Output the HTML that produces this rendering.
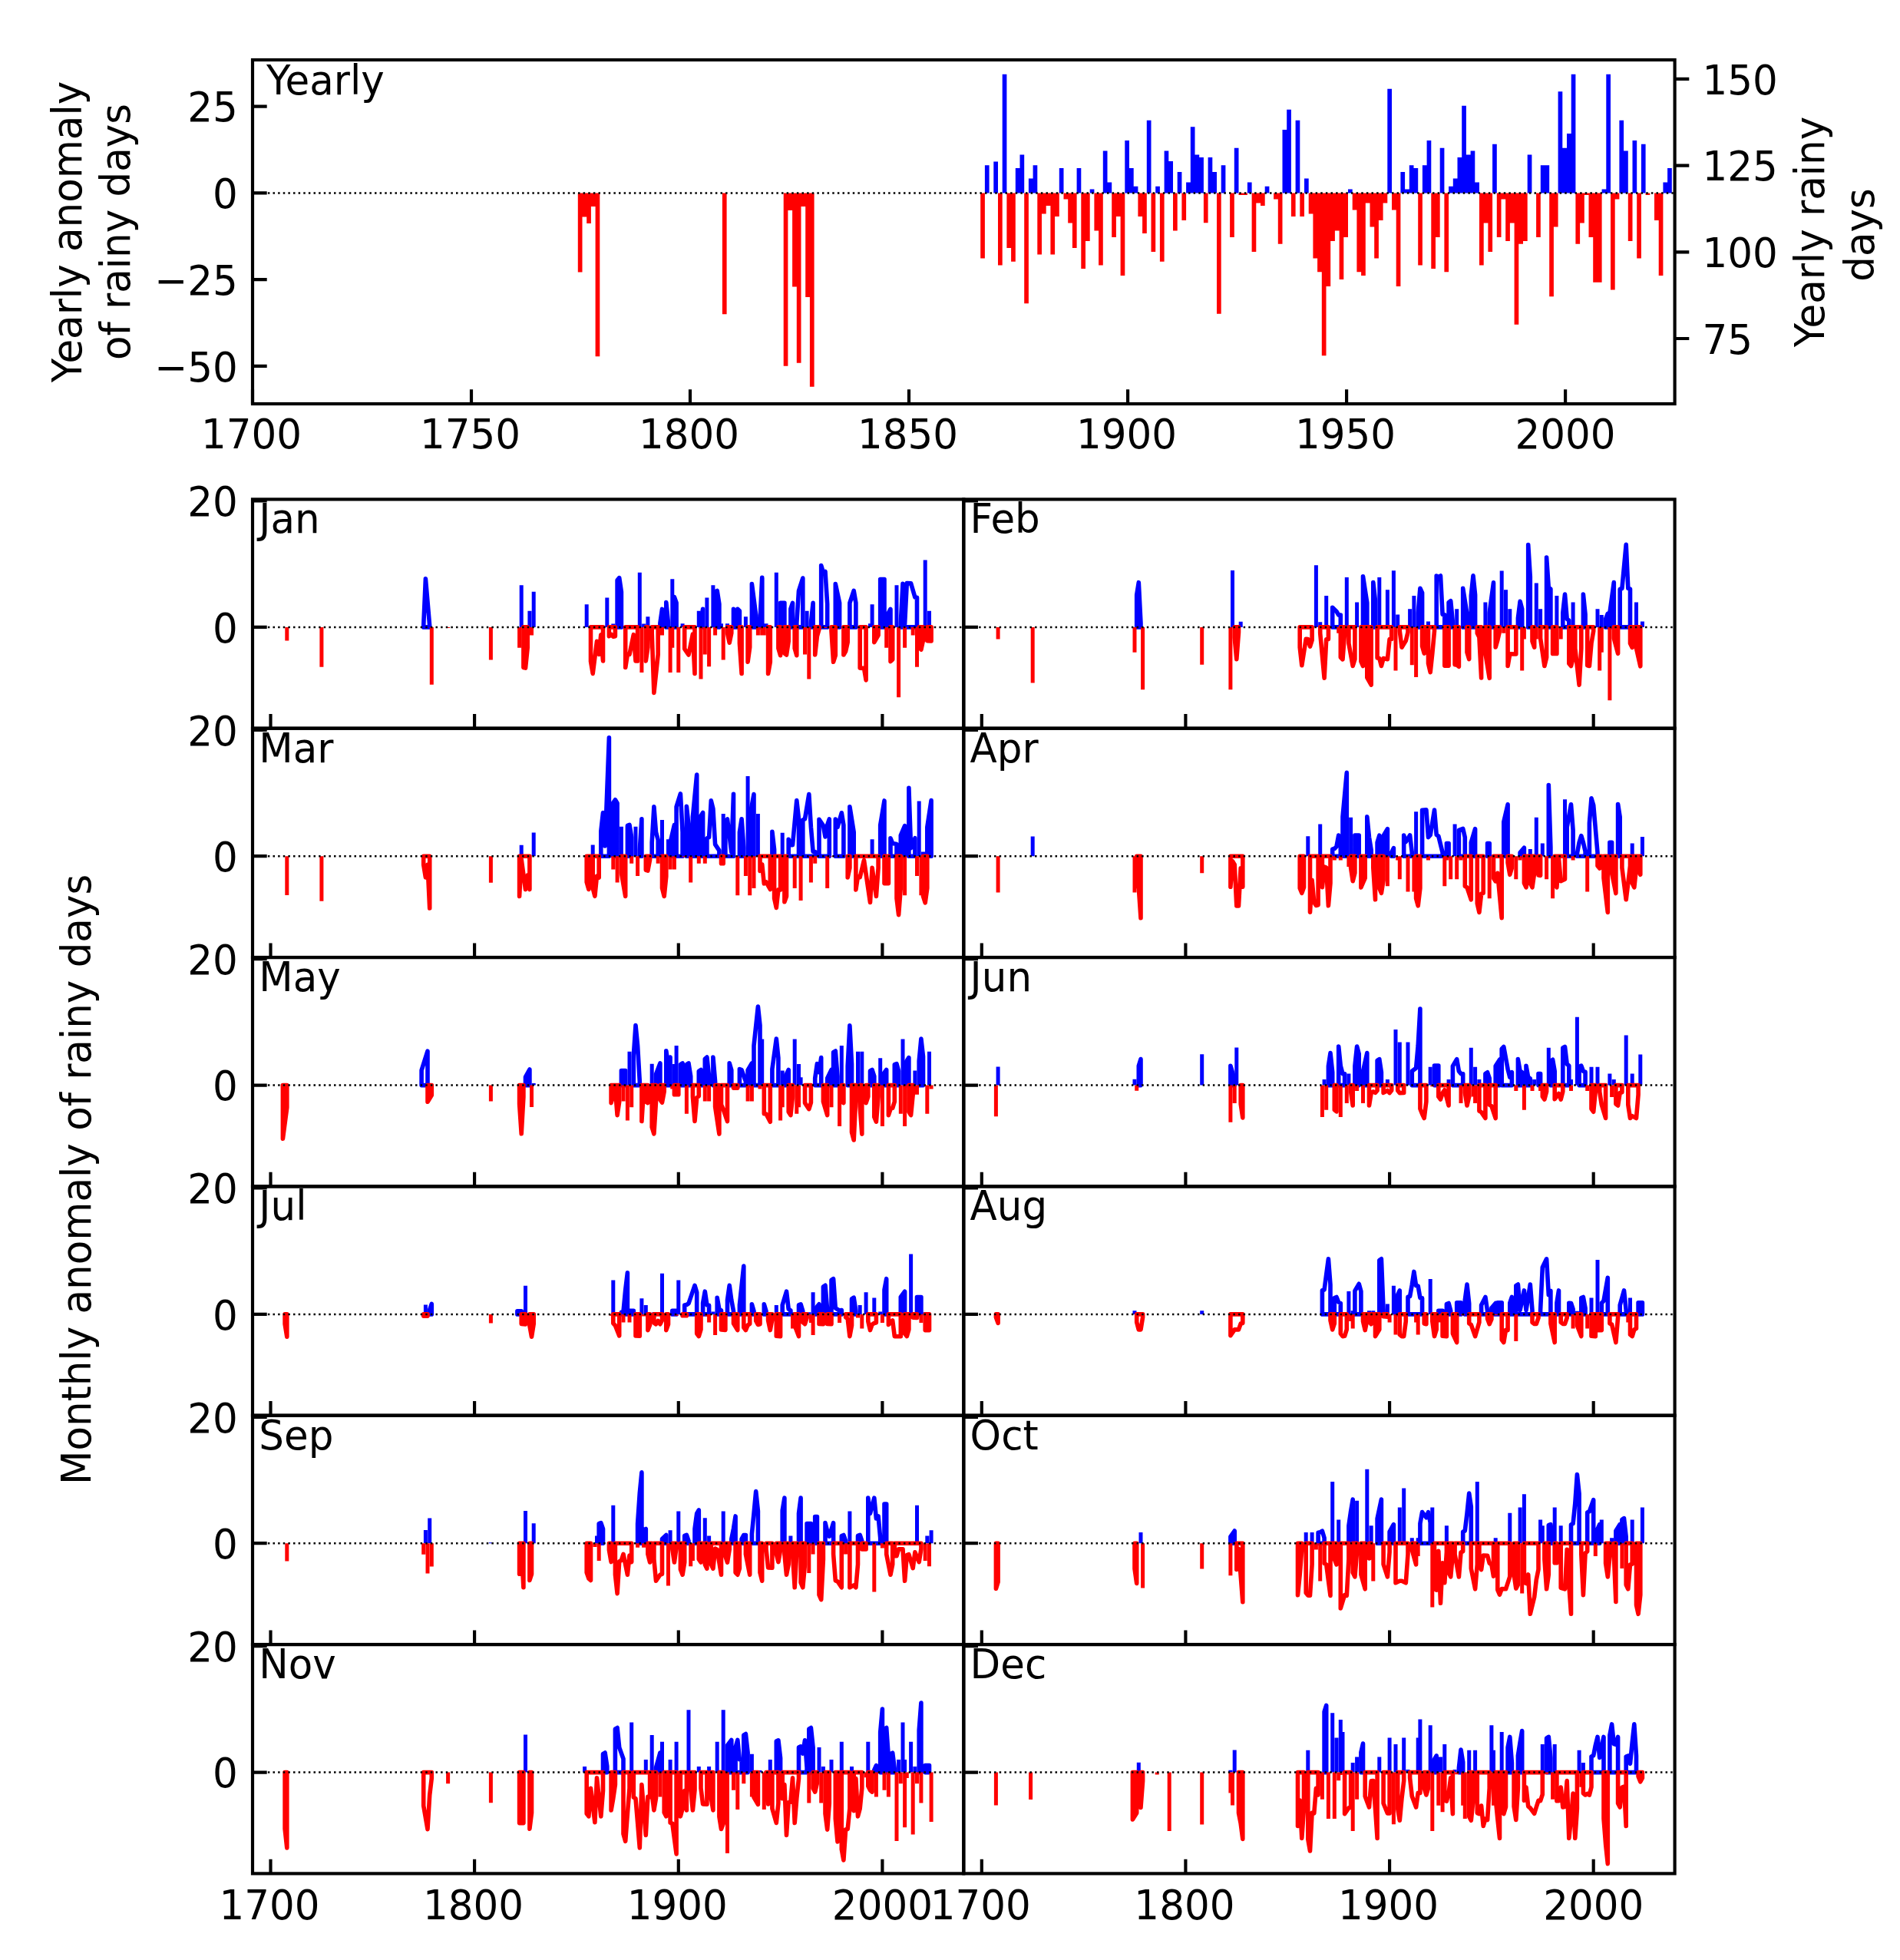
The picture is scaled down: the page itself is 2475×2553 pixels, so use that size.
<!DOCTYPE html><html><head><meta charset="utf-8"><title>Rainy days anomaly</title><style>html,body{margin:0;padding:0;background:#fff}svg{display:block}text{font-family:"DejaVu Sans","Liberation Sans",sans-serif;font-size:54.17px;fill:#000}</style></head><body>
<svg width="2475" height="2553" viewBox="0 0 2475 2553">
<rect width="2475" height="2553" fill="#fff"/>
<path d="M1282.9 251.4h5.70V215.3h-5.70zM1294.3 251.4h5.70V210.4h-5.70zM1305.7 251.4h5.70V96.8h-5.70zM1322.8 251.4h5.70V218.9h-5.70zM1328.5 251.4h5.70V201.4h-5.70zM1339.9 251.4h5.70V232.5h-5.70zM1345.6 251.4h5.70V215.3h-5.70zM1379.8 251.4h5.70V218.9h-5.70zM1402.6 251.4h5.70V218.9h-5.70zM1419.7 251.4h5.70V246.4h-5.70zM1436.8 251.4h5.70V196.4h-5.70zM1442.5 251.4h5.70V237.4h-5.70zM1465.3 251.4h5.70V182.9h-5.70zM1471.0 251.4h5.70V218.9h-5.70zM1476.7 251.4h5.70V242.8h-5.70zM1493.8 251.4h5.70V156.7h-5.70zM1505.2 251.4h5.70V242.8h-5.70zM1516.6 251.4h5.70V196.4h-5.70zM1522.3 251.4h5.70V209.9h-5.70zM1533.7 251.4h5.70V223.9h-5.70zM1545.1 251.4h5.70V237.4h-5.70zM1550.8 251.4h5.70V165.3h-5.70zM1556.5 251.4h5.70V201.4h-5.70zM1562.2 251.4h5.70V205.0h-5.70zM1573.6 251.4h5.70V205.0h-5.70zM1579.3 251.4h5.70V223.9h-5.70zM1590.7 251.4h5.70V215.3h-5.70zM1607.8 251.4h5.70V192.8h-5.70zM1624.9 251.4h5.70V237.4h-5.70zM1647.7 251.4h5.70V242.8h-5.70zM1670.5 251.4h5.70V168.9h-5.70zM1676.2 251.4h5.70V142.8h-5.70zM1687.6 251.4h5.70V156.7h-5.70zM1699.0 251.4h5.70V232.5h-5.70zM1756.0 251.4h5.70V246.4h-5.70zM1807.3 251.4h5.70V115.7h-5.70zM1824.4 251.4h5.70V223.9h-5.70zM1830.1 251.4h5.70V246.4h-5.70zM1835.8 251.4h5.70V215.3h-5.70zM1841.5 251.4h5.70V218.9h-5.70zM1852.9 251.4h5.70V215.3h-5.70zM1858.6 251.4h5.70V182.9h-5.70zM1875.7 251.4h5.70V192.8h-5.70zM1887.1 251.4h5.70V242.8h-5.70zM1892.8 251.4h5.70V232.5h-5.70zM1898.5 251.4h5.70V205.0h-5.70zM1904.2 251.4h5.70V137.8h-5.70zM1909.9 251.4h5.70V201.4h-5.70zM1915.6 251.4h5.70V196.4h-5.70zM1921.3 251.4h5.70V237.4h-5.70zM1944.1 251.4h5.70V187.8h-5.70zM1989.7 251.4h5.70V201.4h-5.70zM2006.8 251.4h5.70V215.3h-5.70zM2012.5 251.4h5.70V215.3h-5.70zM2029.6 251.4h5.70V119.3h-5.70zM2035.3 251.4h5.70V192.8h-5.70zM2041.0 251.4h5.70V173.9h-5.70zM2046.7 251.4h5.70V96.8h-5.70zM2086.6 251.4h5.70V246.4h-5.70zM2092.3 251.4h5.70V96.8h-5.70zM2109.4 251.4h5.70V156.7h-5.70zM2115.1 251.4h5.70V196.4h-5.70zM2126.5 251.4h5.70V182.9h-5.70zM2137.9 251.4h5.70V187.8h-5.70zM2166.4 251.4h5.70V237.4h-5.70zM2172.1 251.4h5.70V218.9h-5.70z" fill="#0000ff"/>
<path d="M752.8 251.4h5.70V354.6h-5.70zM758.5 251.4h5.70V282.5h-5.70zM764.2 251.4h5.70V291.1h-5.70zM769.9 251.4h5.70V269.0h-5.70zM775.6 251.4h5.70V464.2h-5.70zM940.9 251.4h5.70V409.2h-5.70zM1020.7 251.4h5.70V476.8h-5.70zM1026.4 251.4h5.70V273.9h-5.70zM1032.1 251.4h5.70V373.6h-5.70zM1037.8 251.4h5.70V472.7h-5.70zM1043.5 251.4h5.70V269.0h-5.70zM1049.2 251.4h5.70V387.1h-5.70zM1054.9 251.4h5.70V503.8h-5.70zM1277.2 251.4h5.70V336.6h-5.70zM1300.0 251.4h5.70V345.6h-5.70zM1311.4 251.4h5.70V323.1h-5.70zM1317.1 251.4h5.70V340.7h-5.70zM1334.2 251.4h5.70V395.2h-5.70zM1351.3 251.4h5.70V331.6h-5.70zM1357.0 251.4h5.70V278.4h-5.70zM1362.7 251.4h5.70V268.1h-5.70zM1368.4 251.4h5.70V331.6h-5.70zM1374.1 251.4h5.70V282.1h-5.70zM1385.5 251.4h5.70V259.5h-5.70zM1391.2 251.4h5.70V290.6h-5.70zM1396.9 251.4h5.70V323.1h-5.70zM1408.3 251.4h5.70V350.1h-5.70zM1414.0 251.4h5.70V314.1h-5.70zM1425.4 251.4h5.70V300.5h-5.70zM1431.1 251.4h5.70V345.6h-5.70zM1448.2 251.4h5.70V309.1h-5.70zM1453.9 251.4h5.70V282.1h-5.70zM1459.6 251.4h5.70V359.1h-5.70zM1482.4 251.4h5.70V282.1h-5.70zM1488.1 251.4h5.70V304.1h-5.70zM1499.5 251.4h5.70V328.0h-5.70zM1510.9 251.4h5.70V340.7h-5.70zM1528.0 251.4h5.70V300.5h-5.70zM1539.4 251.4h5.70V287.0h-5.70zM1567.9 251.4h5.70V290.2h-5.70zM1585.0 251.4h5.70V408.7h-5.70zM1602.1 251.4h5.70V309.1h-5.70zM1613.5 251.4h5.70V254.1h-5.70zM1619.2 251.4h5.70V254.1h-5.70zM1630.6 251.4h5.70V328.0h-5.70zM1636.3 251.4h5.70V264.5h-5.70zM1642.0 251.4h5.70V268.1h-5.70zM1659.1 251.4h5.70V259.5h-5.70zM1664.8 251.4h5.70V317.7h-5.70zM1681.9 251.4h5.70V282.1h-5.70zM1693.3 251.4h5.70V282.1h-5.70zM1704.7 251.4h5.70V278.4h-5.70zM1710.4 251.4h5.70V336.6h-5.70zM1716.1 251.4h5.70V354.2h-5.70zM1721.8 251.4h5.70V463.3h-5.70zM1727.5 251.4h5.70V373.1h-5.70zM1733.2 251.4h5.70V314.1h-5.70zM1738.9 251.4h5.70V300.5h-5.70zM1744.6 251.4h5.70V364.1h-5.70zM1750.3 251.4h5.70V309.1h-5.70zM1761.7 251.4h5.70V273.5h-5.70zM1767.4 251.4h5.70V354.2h-5.70zM1773.1 251.4h5.70V359.1h-5.70zM1778.8 251.4h5.70V264.5h-5.70zM1784.5 251.4h5.70V295.6h-5.70zM1790.2 251.4h5.70V336.6h-5.70zM1795.9 251.4h5.70V287.0h-5.70zM1801.6 251.4h5.70V264.5h-5.70zM1813.0 251.4h5.70V273.5h-5.70zM1818.7 251.4h5.70V373.1h-5.70zM1847.2 251.4h5.70V345.6h-5.70zM1864.3 251.4h5.70V350.1h-5.70zM1870.0 251.4h5.70V309.1h-5.70zM1881.4 251.4h5.70V354.2h-5.70zM1927.0 251.4h5.70V345.6h-5.70zM1932.7 251.4h5.70V290.6h-5.70zM1938.4 251.4h5.70V328.0h-5.70zM1949.8 251.4h5.70V309.1h-5.70zM1955.5 251.4h5.70V259.5h-5.70zM1961.2 251.4h5.70V314.1h-5.70zM1966.9 251.4h5.70V290.6h-5.70zM1972.6 251.4h5.70V422.7h-5.70zM1978.3 251.4h5.70V317.7h-5.70zM1984.0 251.4h5.70V314.1h-5.70zM2001.1 251.4h5.70V309.1h-5.70zM2018.2 251.4h5.70V386.2h-5.70zM2023.9 251.4h5.70V295.6h-5.70zM2052.4 251.4h5.70V317.7h-5.70zM2058.1 251.4h5.70V290.6h-5.70zM2063.8 251.4h5.70V254.1h-5.70zM2069.5 251.4h5.70V309.1h-5.70zM2075.2 251.4h5.70V367.7h-5.70zM2080.9 251.4h5.70V367.7h-5.70zM2098.0 251.4h5.70V377.6h-5.70zM2103.7 251.4h5.70V259.5h-5.70zM2120.8 251.4h5.70V314.1h-5.70zM2132.2 251.4h5.70V336.6h-5.70zM2143.6 251.4h5.70V254.1h-5.70zM2155.0 251.4h5.70V287.0h-5.70zM2160.7 251.4h5.70V359.1h-5.70z" fill="#ff0000"/>
<line x1="329.0" y1="251.4" x2="2181.6" y2="251.4" stroke="#000" stroke-width="2.5" stroke-dasharray="2.5 4.125"/>
<path d="M329.0 526.0v-18.7M614.0 526.0v-18.7M899.0 526.0v-18.7M1184.0 526.0v-18.7M1469.1 526.0v-18.7M1754.1 526.0v-18.7M2039.1 526.0v-18.7M329.0 138.7h18.7M329.0 251.4h18.7M329.0 364.1h18.7M329.0 476.8h18.7M2181.6 102.9h18.7M2181.6 215.6h18.7M2181.6 328.3h18.7M2181.6 441.0h18.7" stroke="#000" stroke-width="4.17" fill="none"/>
<rect x="329.0" y="78.0" width="1852.6" height="448.0" fill="none" stroke="#000" stroke-width="4.17"/>
<text transform="translate(327.5 584.3) scale(0.951 1)" text-anchor="middle">1700</text>
<text transform="translate(612.5 584.3) scale(0.951 1)" text-anchor="middle">1750</text>
<text transform="translate(897.5 584.3) scale(0.951 1)" text-anchor="middle">1800</text>
<text transform="translate(1182.5 584.3) scale(0.951 1)" text-anchor="middle">1850</text>
<text transform="translate(1467.6 584.3) scale(0.951 1)" text-anchor="middle">1900</text>
<text transform="translate(1752.6 584.3) scale(0.951 1)" text-anchor="middle">1950</text>
<text transform="translate(2039.1 584.3) scale(0.951 1)" text-anchor="middle">2000</text>
<text transform="translate(309.8 158.4) scale(0.951 1)" text-anchor="end">25</text>
<text transform="translate(309.8 271.1) scale(0.951 1)" text-anchor="end">0</text>
<text transform="translate(309.8 383.8) scale(0.951 1)" text-anchor="end">−25</text>
<text transform="translate(309.8 496.5) scale(0.951 1)" text-anchor="end">−50</text>
<text transform="translate(2217.5 122.6) scale(0.951 1)" text-anchor="start">150</text>
<text transform="translate(2217.5 235.3) scale(0.951 1)" text-anchor="start">125</text>
<text transform="translate(2217.5 348.0) scale(0.951 1)" text-anchor="start">100</text>
<text transform="translate(2217.5 460.7) scale(0.951 1)" text-anchor="start">75</text>
<text transform="translate(346.9 123.2) scale(0.951 1)" text-anchor="start">Yearly</text>
<text transform="translate(105.5 302.0) rotate(-90) scale(0.951 1)" text-anchor="middle">Yearly anomaly</text>
<text transform="translate(168.5 302.0) rotate(-90) scale(0.951 1)" text-anchor="middle">of rainy days</text>
<text transform="translate(2376.0 302.0) rotate(-90) scale(0.951 1)" text-anchor="middle">Yearly rainy</text>
<text transform="translate(2441.0 306.0) rotate(-90) scale(0.951 1)" text-anchor="middle">days</text>
<path d="M551.7 816.9L551.7 815.5L554.4 753.7L559.7 815.5L559.7 816.9zM804.1 816.9L804.1 755.7L806.7 752.6L809.4 770.8L809.4 816.9zM859.9 816.9L859.9 811.6L862.5 793.4L862.5 816.9zM867.8 816.9L867.8 784.6L870.5 811.6L870.5 816.9zM878.4 816.9L878.4 777.6L881.1 785.3L881.1 816.9zM913.0 816.9L913.0 811.6L915.6 793.2L915.6 816.9zM931.6 816.9L931.6 770.8L934.2 769.5L936.9 786.6L936.9 816.9zM955.5 816.9L955.5 793.4L958.1 812.9L960.8 793.2L963.4 795.8L963.4 816.9zM979.4 816.9L979.4 760.5L984.7 801.1L984.7 816.9zM990.0 816.9L990.0 811.6L992.7 752.4L992.7 816.9zM1016.6 816.9L1016.6 785.3L1021.9 785.3L1021.9 816.9zM1029.9 816.9L1029.9 793.2L1032.5 785.3L1032.5 816.9zM1037.8 816.9L1037.8 811.6L1040.5 769.5L1045.8 753.0L1045.8 816.9zM1056.4 816.9L1056.4 811.6L1059.1 785.3L1059.1 816.9zM1069.7 816.9L1069.7 736.6L1072.4 745.8L1075.0 744.5L1077.7 786.8L1077.7 816.9zM1088.3 816.9L1088.3 760.5L1093.6 785.3L1093.6 816.9zM1106.9 816.9L1106.9 785.3L1112.2 769.5L1114.9 785.3L1114.9 816.9zM1146.7 816.9L1146.7 754.6L1152.0 754.6L1152.0 816.9zM1157.4 816.9L1157.4 798.4L1160.0 793.4L1160.0 816.9zM1173.3 816.9L1173.3 811.6L1176.0 760.3L1178.6 812.9L1181.3 759.6L1186.6 759.9L1191.9 778.0L1194.5 778.3L1194.5 816.9z" fill="none" stroke="#0000ff" stroke-width="5.6" stroke-linejoin="round"/>
<path d="M676.7 816.9H681.7V762.2H676.7zM687.4 816.9H692.4V795.8H687.4zM692.7 816.9H697.7V770.8H692.7zM761.7 816.9H766.7V787.2H761.7zM788.3 816.9H793.3V778.4H788.3zM796.3 816.9H801.3V812.6H796.3zM830.8 816.9H835.8V745.8H830.8zM836.1 816.9H841.1V812.6H836.1zM841.4 816.9H846.4V803.3H841.4zM873.3 816.9H878.3V754.3H873.3zM886.6 816.9H891.6V812.2H886.6zM907.8 816.9H912.8V795.8H907.8zM918.4 816.9H923.4V778.4H918.4zM926.4 816.9H931.4V762.2H926.4zM937.0 816.9H942.0V812.2H937.0zM945.0 816.9H950.0V812.2H945.0zM968.9 816.9H973.9V803.3H968.9zM995.5 816.9H1000.5V812.2H995.5zM990.2 816.9H995.2V753.0H990.2zM992.8 816.9H997.8V812.2H992.8zM1008.8 816.9H1013.8V745.8H1008.8zM1048.6 816.9H1053.6V795.8H1048.6zM1131.0 816.9H1136.0V812.2H1131.0zM1133.6 816.9H1138.6V787.2H1133.6zM1165.5 816.9H1170.5V762.2H1165.5zM1202.7 816.9H1207.7V729.6H1202.7zM1208.0 816.9H1213.0V795.8H1208.0z" fill="#0000ff"/>
<path d="M681.9 816.9L681.9 869.5L684.5 870.1L687.2 843.8L687.2 816.9zM769.5 816.9L769.5 861.6L772.2 877.4L777.5 835.3L780.2 852.4L782.8 826.7L785.5 860.9L785.5 816.9zM793.4 816.9L793.4 828.7L796.1 826.1L798.8 829.3L801.4 828.7L801.4 816.9zM814.7 816.9L814.7 869.5L817.4 852.4L820.0 852.4L825.3 826.7L828.0 860.9L830.6 860.9L830.6 816.9zM841.3 816.9L841.3 860.9L843.9 843.2L843.9 816.9zM849.2 816.9L849.2 824.7L851.9 902.4L857.2 852.4L857.2 816.9zM891.7 816.9L891.7 845.1L897.0 853.0L902.4 826.1L905.0 877.4L905.0 816.9zM947.5 816.9L947.5 824.7L950.2 837.2L952.8 824.7L952.8 816.9zM963.4 816.9L963.4 837.9L966.1 877.4L966.1 816.9zM974.1 816.9L974.1 862.2L976.7 843.2L976.7 816.9zM1000.6 816.9L1000.6 877.4L1003.3 862.2L1003.3 816.9zM1013.9 816.9L1013.9 844.5L1016.6 853.7L1016.6 816.9zM1021.9 816.9L1021.9 851.1L1024.5 853.0L1027.2 835.3L1027.2 816.9zM1035.2 816.9L1035.2 844.5L1037.8 853.7L1037.8 816.9zM1061.7 816.9L1061.7 853.0L1064.4 828.7L1067.0 819.5L1067.0 816.9zM1083.0 816.9L1083.0 822.1L1085.6 862.2L1088.3 853.7L1088.3 816.9zM1098.9 816.9L1098.9 853.0L1101.6 848.4L1104.2 836.6L1104.2 816.9zM1120.2 816.9L1120.2 870.1L1125.5 870.4L1128.1 885.9L1128.1 816.9zM1138.8 816.9L1138.8 836.6L1144.1 827.4L1144.1 816.9zM1160.0 816.9L1160.0 861.6L1162.7 858.9L1162.7 816.9zM1197.2 816.9L1197.2 843.2L1199.9 846.1L1202.5 833.9L1202.5 816.9zM1207.8 816.9L1207.8 834.6L1213.1 834.9L1213.1 816.9z" fill="none" stroke="#ff0000" stroke-width="5.6" stroke-linejoin="round"/>
<path d="M371.3 816.9H376.3V834.5H371.3zM416.4 816.9H421.4V868.7H416.4zM559.8 816.9H564.8V891.8H559.8zM581.1 816.9H586.1V817.9H581.1zM636.9 816.9H641.9V859.6H636.9zM674.1 816.9H679.1V843.8H674.1zM690.0 816.9H695.0V827.4H690.0zM833.4 816.9H838.4V876.1H833.4zM860.0 816.9H865.0V827.4H860.0zM870.6 816.9H875.6V876.1H870.6zM873.3 816.9H878.3V843.8H873.3zM881.3 816.9H886.3V876.1H881.3zM910.5 816.9H915.5V884.6H910.5zM915.8 816.9H920.8V852.4H915.8zM921.1 816.9H926.1V868.2H921.1zM929.1 816.9H934.1V827.4H929.1zM939.7 816.9H944.7V859.6H939.7zM984.9 816.9H989.9V827.4H984.9zM992.8 816.9H997.8V827.4H992.8zM990.2 816.9H995.2V827.4H990.2zM1046.0 816.9H1051.0V852.4H1046.0zM1051.3 816.9H1056.3V884.6H1051.3zM1072.5 816.9H1077.5V817.9H1072.5zM1152.2 816.9H1157.2V843.8H1152.2zM1168.1 816.9H1173.1V908.3H1168.1zM1176.1 816.9H1181.1V843.8H1176.1zM1186.7 816.9H1191.7V827.4H1186.7zM1192.0 816.9H1197.0V868.8H1192.0z" fill="#ff0000"/>
<line x1="329.0" y1="816.9" x2="1255.3" y2="816.9" stroke="#000" stroke-width="2.5" stroke-dasharray="2.5 4.125"/>
<path d="M352.5 948.7v-18.7M618.1 948.7v-18.7M883.8 948.7v-18.7M1149.4 948.7v-18.7M329.0 652.5h18.7M329.0 816.9h18.7" stroke="#000" stroke-width="4.17" fill="none"/>
<rect x="329.0" y="650.4" width="926.3" height="298.3" fill="none" stroke="#000" stroke-width="4.17"/>
<text transform="translate(337.3 694.3) scale(0.951 1)" text-anchor="start">Jan</text>
<text transform="translate(309.8 672.2) scale(0.951 1)" text-anchor="end">20</text>
<text transform="translate(309.8 836.6) scale(0.951 1)" text-anchor="end">0</text>
<path d="M1480.7 816.9L1480.7 775.0L1483.3 758.7L1486.0 812.0L1486.0 816.9zM1735.7 816.9L1735.7 791.2L1741.0 796.4L1743.7 801.1L1746.3 801.1L1746.3 816.9zM1775.5 816.9L1775.5 750.8L1780.8 785.3L1780.8 816.9zM1788.8 816.9L1788.8 758.6L1791.5 782.6L1791.5 816.9zM1847.2 816.9L1847.2 798.4L1849.9 766.2L1852.6 772.1L1852.6 816.9zM1871.2 816.9L1871.2 750.0L1873.8 751.7L1876.5 750.0L1879.1 800.4L1881.8 800.7L1881.8 816.9zM1887.1 816.9L1887.1 784.6L1889.7 782.6L1892.4 810.3L1892.4 816.9zM1905.7 816.9L1905.7 766.4L1911.0 799.7L1911.0 816.9zM1916.3 816.9L1916.3 776.1L1919.0 749.7L1921.6 774.7L1921.6 816.9zM1940.2 816.9L1940.2 798.4L1945.5 758.9L1945.5 816.9zM1977.4 816.9L1977.4 805.0L1980.1 783.3L1982.7 793.2L1982.7 816.9zM1990.7 816.9L1990.7 709.6L1993.3 751.1L1993.3 816.9zM2014.6 816.9L2014.6 726.1L2017.3 765.5L2019.9 767.1L2019.9 816.9zM2035.8 816.9L2035.8 798.4L2038.5 774.1L2041.2 806.3L2043.8 808.3L2043.8 816.9zM2062.4 816.9L2062.4 774.1L2065.1 800.4L2065.1 816.9zM2091.6 816.9L2091.6 806.3L2094.3 799.3L2094.3 816.9zM2096.9 816.9L2096.9 798.4L2102.3 758.6L2102.3 816.9zM2110.2 816.9L2110.2 767.5L2112.9 766.6L2118.2 709.2L2120.8 766.3L2123.5 767.1L2123.5 816.9z" fill="none" stroke="#0000ff" stroke-width="5.6" stroke-linejoin="round"/>
<path d="M1603.0 816.9H1608.0V743.0H1603.0zM1613.7 816.9H1618.7V809.7H1613.7zM1711.9 816.9H1716.9V736.3H1711.9zM1717.2 816.9H1722.2V810.3H1717.2zM1725.2 816.9H1730.2V776.1H1725.2zM1751.8 816.9H1756.8V752.1H1751.8zM1765.1 816.9H1770.1V784.6H1765.1zM1794.3 816.9H1799.3V752.1H1794.3zM1804.9 816.9H1809.9V768.2H1804.9zM1812.9 816.9H1817.9V743.2H1812.9zM1818.2 816.9H1823.2V800.4H1818.2zM1834.1 816.9H1839.1V793.2H1834.1zM1839.4 816.9H1844.4V776.1H1839.4zM1858.0 816.9H1863.0V809.6H1858.0zM1895.2 816.9H1900.2V793.2H1895.2zM1932.4 816.9H1937.4V784.6H1932.4zM1953.7 816.9H1958.7V743.4H1953.7zM1959.0 816.9H1964.0V768.2H1959.0zM1964.3 816.9H1969.3V793.2H1964.3zM1998.8 816.9H2003.8V759.6H1998.8zM2004.1 816.9H2009.1V793.2H2004.1zM2025.4 816.9H2030.4V776.1H2025.4zM2046.6 816.9H2051.6V784.6H2046.6zM2078.5 816.9H2083.5V793.2H2078.5zM2083.8 816.9H2088.8V801.1H2083.8zM2129.0 816.9H2134.0V784.6H2129.0zM2136.9 816.9H2141.9V809.6H2136.9z" fill="#0000ff"/>
<path d="M1608.2 816.9L1608.2 830.5L1610.8 858.8L1613.5 823.6L1613.5 816.9zM1693.2 816.9L1693.2 843.2L1695.8 866.8L1701.2 832.4L1703.8 832.6L1706.5 842.1L1709.1 833.9L1709.1 816.9zM1719.7 816.9L1719.7 824.7L1725.1 883.3L1727.7 832.9L1730.4 832.6L1730.4 816.9zM1746.3 816.9L1746.3 856.3L1749.0 858.9L1751.6 824.7L1751.6 816.9zM1756.9 816.9L1756.9 837.9L1762.2 867.5L1764.9 858.7L1764.9 816.9zM1772.9 816.9L1772.9 861.6L1775.5 867.5L1778.2 861.6L1778.2 816.9zM1780.8 816.9L1780.8 882.6L1786.2 892.1L1786.2 816.9zM1794.1 816.9L1794.1 857.0L1796.8 857.4L1799.4 867.5L1802.1 857.6L1807.4 858.7L1810.1 832.6L1812.7 832.4L1812.7 816.9zM1823.3 816.9L1823.3 822.1L1826.0 843.2L1831.3 834.6L1834.0 823.4L1834.0 816.9zM1852.6 816.9L1852.6 841.8L1855.2 851.1L1857.9 848.4L1857.9 816.9zM1860.5 816.9L1860.5 864.2L1863.2 875.7L1865.8 851.1L1868.5 822.1L1868.5 816.9zM1881.8 816.9L1881.8 867.1L1887.1 867.1L1887.1 816.9zM1895.1 816.9L1895.1 865.8L1897.7 866.1L1900.4 868.2L1900.4 816.9zM1911.0 816.9L1911.0 849.7L1913.7 858.6L1913.7 816.9zM1924.3 816.9L1924.3 824.7L1926.9 830.0L1929.6 882.9L1929.6 816.9zM1934.9 816.9L1934.9 851.1L1940.2 883.3L1940.2 816.9zM1948.2 816.9L1948.2 842.9L1950.8 833.9L1953.5 822.1L1953.5 816.9zM1964.1 816.9L1964.1 867.5L1966.8 851.7L1974.8 852.0L1974.8 816.9zM1996.0 816.9L1996.0 835.3L1998.7 843.2L1998.7 816.9zM2006.6 816.9L2006.6 831.3L2011.9 867.5L2014.6 856.3L2014.6 816.9zM2022.6 816.9L2022.6 851.4L2027.9 851.4L2027.9 816.9zM2043.8 816.9L2043.8 864.2L2046.5 867.5L2049.1 857.6L2049.1 816.9zM2051.8 816.9L2051.8 844.5L2057.1 892.1L2059.8 844.5L2059.8 816.9zM2067.7 816.9L2067.7 866.8L2070.4 867.5L2073.0 837.9L2075.7 822.1L2075.7 816.9zM2102.3 816.9L2102.3 831.3L2107.6 851.3L2107.6 816.9zM2123.5 816.9L2123.5 837.9L2126.2 843.4L2128.8 837.9L2128.8 816.9zM2131.5 816.9L2131.5 844.5L2136.8 867.8L2136.8 816.9z" fill="none" stroke="#ff0000" stroke-width="5.6" stroke-linejoin="round"/>
<path d="M1297.6 816.9H1302.6V832.4H1297.6zM1342.7 816.9H1347.7V889.6H1342.7zM1475.5 816.9H1480.5V849.8H1475.5zM1486.1 816.9H1491.1V898.2H1486.1zM1563.2 816.9H1568.2V865.7H1563.2zM1600.4 816.9H1605.4V898.2H1600.4zM1741.2 816.9H1746.2V824.7H1741.2zM1815.5 816.9H1820.5V873.4H1815.5zM1836.8 816.9H1841.8V866.2H1836.8zM1842.1 816.9H1847.1V882.0H1842.1zM1956.3 816.9H1961.3V824.7H1956.3zM1980.2 816.9H1985.2V873.4H1980.2zM1982.9 816.9H1987.9V832.6H1982.9zM1998.8 816.9H2003.8V832.6H1998.8zM2030.7 816.9H2035.7V832.6H2030.7zM2081.2 816.9H2086.2V873.4H2081.2zM2083.8 816.9H2088.8V849.7H2083.8zM2094.4 816.9H2099.4V912.2H2094.4z" fill="#ff0000"/>
<line x1="1255.3" y1="816.9" x2="2181.6" y2="816.9" stroke="#000" stroke-width="2.5" stroke-dasharray="2.5 4.125"/>
<path d="M1278.8 948.7v-18.7M1544.4 948.7v-18.7M1810.1 948.7v-18.7M2075.7 948.7v-18.7M1255.3 652.5h18.7M1255.3 816.9h18.7" stroke="#000" stroke-width="4.17" fill="none"/>
<rect x="1255.3" y="650.4" width="926.3" height="298.3" fill="none" stroke="#000" stroke-width="4.17"/>
<text transform="translate(1263.6 694.3) scale(0.951 1)" text-anchor="start">Feb</text>
<path d="M782.8 1115.2L782.8 1082.7L785.5 1058.5L788.1 1101.9L793.4 960.7L793.4 1115.2zM798.8 1115.2L798.8 1045.5L801.4 1041.8L804.1 1046.2L804.1 1115.2zM817.4 1115.2L817.4 1075.4L820.0 1074.4L822.7 1090.6L822.7 1115.2zM833.3 1115.2L833.3 1107.2L835.9 1066.8L835.9 1115.2zM849.2 1115.2L849.2 1097.3L851.9 1050.8L854.5 1084.0L857.2 1093.9L857.2 1115.2zM873.1 1115.2L873.1 1097.3L878.4 1074.7L878.4 1115.2zM881.1 1115.2L881.1 1050.8L886.4 1033.9L889.1 1084.0L889.1 1115.2zM894.4 1115.2L894.4 1050.4L897.0 1074.7L899.7 1075.4L899.7 1115.2zM902.4 1115.2L902.4 1064.1L907.7 1009.1L907.7 1115.2zM910.3 1115.2L910.3 1067.4L915.6 1058.5L915.6 1115.2zM920.9 1115.2L920.9 1092.0L923.6 1090.6L926.3 1042.9L928.9 1053.5L931.6 1099.9L936.9 1107.9L936.9 1115.2zM944.9 1115.2L944.9 1069.4L947.5 1067.0L952.8 1109.9L955.5 1034.3L955.5 1115.2zM963.4 1115.2L963.4 1084.0L966.1 1066.8L968.8 1103.9L968.8 1115.2zM976.7 1115.2L976.7 1064.1L982.0 1034.5L982.0 1115.2zM1005.9 1115.2L1005.9 1083.3L1008.6 1106.5L1008.6 1115.2zM1027.2 1115.2L1027.2 1093.3L1029.9 1100.6L1032.5 1100.6L1037.8 1042.5L1040.5 1066.8L1040.5 1115.2zM1045.8 1115.2L1045.8 1068.1L1048.5 1066.8L1053.8 1034.5L1056.4 1077.4L1059.1 1109.2L1061.7 1109.5L1061.7 1115.2zM1067.0 1115.2L1067.0 1067.4L1072.4 1075.4L1075.0 1090.0L1077.7 1074.7L1080.3 1067.0L1080.3 1115.2zM1088.3 1115.2L1088.3 1067.0L1091.0 1077.4L1096.3 1058.8L1098.9 1074.7L1098.9 1115.2zM1106.9 1115.2L1106.9 1050.8L1112.2 1084.0L1112.2 1115.2zM1146.7 1115.2L1146.7 1074.7L1152.0 1042.9L1152.0 1115.2zM1160.0 1115.2L1160.0 1091.7L1162.7 1098.6L1168.0 1099.6L1168.0 1115.2zM1173.3 1115.2L1173.3 1088.0L1178.6 1075.6L1178.6 1115.2zM1183.9 1115.2L1183.9 1026.3L1186.6 1104.6L1191.9 1091.7L1191.9 1115.2zM1207.8 1115.2L1207.8 1077.4L1213.1 1042.5L1213.1 1115.2z" fill="none" stroke="#0000ff" stroke-width="5.6" stroke-linejoin="round"/>
<path d="M676.7 1115.2H681.7V1100.7H676.7zM692.7 1115.2H697.7V1084.5H692.7zM769.7 1115.2H774.7V1100.6H769.7zM806.9 1115.2H811.9V1076.7H806.9zM825.5 1115.2H830.5V1076.7H825.5zM860.0 1115.2H865.0V1068.1H860.0zM868.0 1115.2H873.0V1093.3H868.0zM939.7 1115.2H944.7V1059.9H939.7zM971.6 1115.2H976.6V1011.1H971.6zM984.9 1115.2H989.9V1059.9H984.9zM1016.7 1115.2H1021.7V1084.7H1016.7zM1133.6 1115.2H1138.6V1093.3H1133.6zM1194.7 1115.2H1199.7V1043.5H1194.7zM1200.0 1115.2H1205.0V1109.5H1200.0z" fill="#0000ff"/>
<path d="M551.7 1115.2L551.7 1126.2L554.4 1142.9L557.0 1126.2L559.7 1183.0L559.7 1115.2zM676.6 1115.2L676.6 1167.4L679.2 1119.3L684.5 1158.6L687.2 1140.1L689.9 1158.6L689.9 1115.2zM764.2 1115.2L764.2 1149.0L766.9 1158.5L769.5 1130.4L769.5 1115.2zM772.2 1115.2L772.2 1156.9L774.9 1167.3L777.5 1141.0L780.2 1143.0L780.2 1115.2zM809.4 1115.2L809.4 1137.0L814.7 1167.5L814.7 1115.2zM841.3 1115.2L841.3 1133.3L843.9 1134.1L846.6 1119.8L846.6 1115.2zM862.5 1115.2L862.5 1156.9L865.2 1167.5L867.8 1141.7L867.8 1115.2zM939.5 1115.2L939.5 1124.8L942.2 1124.8L942.2 1115.2zM990.0 1115.2L990.0 1134.4L992.7 1125.8L995.3 1151.0L998.0 1149.0L1003.3 1158.5L1003.3 1115.2zM1008.6 1115.2L1008.6 1170.2L1011.3 1182.4L1013.9 1158.9L1016.6 1158.9L1016.6 1115.2zM1021.9 1115.2L1021.9 1174.8L1024.5 1167.5L1024.5 1115.2zM1104.2 1115.2L1104.2 1143.0L1106.9 1130.4L1106.9 1115.2zM1114.9 1115.2L1114.9 1158.9L1117.5 1141.7L1120.2 1142.6L1125.5 1120.5L1133.5 1175.5L1136.1 1130.4L1141.4 1167.5L1144.1 1130.4L1144.1 1115.2zM1152.0 1115.2L1152.0 1150.6L1157.4 1150.6L1157.4 1115.2zM1168.0 1115.2L1168.0 1170.2L1170.6 1191.7L1173.3 1156.9L1173.3 1115.2zM1202.5 1115.2L1202.5 1167.5L1205.2 1175.8L1207.8 1156.9L1207.8 1115.2z" fill="none" stroke="#ff0000" stroke-width="5.6" stroke-linejoin="round"/>
<path d="M371.3 1115.2H376.3V1166.1H371.3zM416.4 1115.2H421.4V1173.7H416.4zM636.9 1115.2H641.9V1149.8H636.9zM796.3 1115.2H801.3V1132.4H796.3zM801.6 1115.2H806.6V1149.6H801.6zM820.2 1115.2H825.2V1124.8H820.2zM828.1 1115.2H833.1V1141.0H828.1zM854.7 1115.2H859.7V1124.8H854.7zM870.6 1115.2H875.6V1132.4H870.6zM875.9 1115.2H880.9V1132.4H875.9zM889.2 1115.2H894.2V1116.5H889.2zM897.2 1115.2H902.2V1149.6H897.2zM907.8 1115.2H912.8V1124.8H907.8zM915.8 1115.2H920.8V1124.8H915.8zM958.3 1115.2H963.3V1166.2H958.3zM968.9 1115.2H973.9V1141.0H968.9zM974.2 1115.2H979.2V1166.2H974.2zM979.5 1115.2H984.5V1156.9H979.5zM1032.7 1115.2H1037.7V1156.9H1032.7zM1040.6 1115.2H1045.6V1173.1H1040.6zM1053.9 1115.2H1058.9V1149.6H1053.9zM1059.2 1115.2H1064.2V1124.8H1059.2zM1075.2 1115.2H1080.2V1156.9H1075.2zM1080.5 1115.2H1085.5V1115.8H1080.5zM1176.1 1115.2H1181.1V1166.2H1176.1zM1192.0 1115.2H1197.0V1141.0H1192.0zM1197.4 1115.2H1202.4V1166.2H1197.4z" fill="#ff0000"/>
<line x1="329.0" y1="1115.2" x2="1255.3" y2="1115.2" stroke="#000" stroke-width="2.5" stroke-dasharray="2.5 4.125"/>
<path d="M352.5 1247.1v-18.7M618.1 1247.1v-18.7M883.8 1247.1v-18.7M1149.4 1247.1v-18.7M329.0 950.8h18.7M329.0 1115.2h18.7" stroke="#000" stroke-width="4.17" fill="none"/>
<rect x="329.0" y="948.7" width="926.3" height="298.3" fill="none" stroke="#000" stroke-width="4.17"/>
<text transform="translate(337.3 992.6) scale(0.951 1)" text-anchor="start">Mar</text>
<text transform="translate(309.8 970.6) scale(0.951 1)" text-anchor="end">20</text>
<text transform="translate(309.8 1135.0) scale(0.951 1)" text-anchor="end">0</text>
<path d="M1735.7 1115.2L1735.7 1105.9L1738.3 1105.5L1741.0 1102.6L1743.7 1088.0L1746.3 1097.3L1746.3 1115.2zM1749.0 1115.2L1749.0 1064.1L1754.3 1006.4L1754.3 1115.2zM1764.9 1115.2L1764.9 1088.0L1770.2 1088.0L1770.2 1115.2zM1780.8 1115.2L1780.8 1063.7L1783.5 1090.6L1786.2 1107.2L1786.2 1115.2zM1794.1 1115.2L1794.1 1097.3L1796.8 1088.2L1796.8 1115.2zM1802.1 1115.2L1802.1 1088.6L1807.4 1079.6L1807.4 1115.2zM1812.7 1115.2L1812.7 1110.5L1815.4 1104.6L1815.4 1115.2zM1828.7 1115.2L1828.7 1088.0L1831.3 1096.6L1836.6 1088.0L1839.3 1110.5L1839.3 1115.2zM1852.6 1115.2L1852.6 1055.2L1857.9 1054.8L1860.5 1090.6L1863.2 1087.7L1868.5 1055.1L1871.2 1087.3L1873.8 1089.0L1879.1 1110.5L1879.1 1115.2zM1884.4 1115.2L1884.4 1098.6L1887.1 1098.6L1887.1 1115.2zM1900.4 1115.2L1900.4 1081.3L1905.7 1079.4L1908.3 1090.6L1908.3 1115.2zM1916.3 1115.2L1916.3 1097.3L1921.6 1079.6L1921.6 1115.2zM1937.6 1115.2L1937.6 1098.6L1940.2 1098.6L1940.2 1115.2zM1958.8 1115.2L1958.8 1070.7L1964.1 1047.8L1964.1 1115.2zM1980.1 1115.2L1980.1 1110.5L1985.4 1104.2L1985.4 1115.2zM2017.3 1115.2L2017.3 1022.6L2019.9 1103.9L2019.9 1115.2zM2041.2 1115.2L2041.2 1077.4L2046.5 1047.8L2049.1 1081.3L2049.1 1115.2zM2054.4 1115.2L2054.4 1111.8L2057.1 1097.3L2059.8 1088.6L2062.4 1097.3L2065.1 1109.2L2065.1 1115.2zM2070.4 1115.2L2070.4 1072.1L2073.0 1039.8L2075.7 1048.8L2081.0 1110.5L2081.0 1115.2zM2096.9 1115.2L2096.9 1097.3L2099.6 1097.3L2099.6 1115.2zM2107.6 1115.2L2107.6 1047.5L2110.2 1064.1L2110.2 1115.2z" fill="none" stroke="#0000ff" stroke-width="5.6" stroke-linejoin="round"/>
<path d="M1342.7 1115.2H1347.7V1089.6H1342.7zM1701.3 1115.2H1706.3V1089.3H1701.3zM1717.2 1115.2H1722.2V1073.4H1717.2zM1757.1 1115.2H1762.1V1064.8H1757.1zM1842.1 1115.2H1847.1V1057.2H1842.1zM1892.6 1115.2H1897.6V1073.4H1892.6zM1990.8 1115.2H1995.8V1105.9H1990.8zM1998.8 1115.2H2003.8V1064.8H1998.8zM2006.8 1115.2H2011.8V1098.6H2006.8zM2036.0 1115.2H2041.0V1041.3H2036.0zM2123.7 1115.2H2128.7V1098.6H2123.7zM2136.9 1115.2H2141.9V1090.0H2136.9z" fill="#0000ff"/>
<path d="M1480.7 1115.2L1480.7 1154.0L1483.3 1156.3L1486.0 1195.7L1486.0 1115.2zM1602.9 1115.2L1602.9 1155.2L1605.5 1121.6L1608.2 1126.2L1610.8 1179.9L1613.5 1179.9L1616.2 1130.8L1618.8 1155.2L1618.8 1115.2zM1693.2 1115.2L1693.2 1156.9L1695.8 1163.3L1698.5 1155.9L1698.5 1115.2zM1706.5 1115.2L1706.5 1188.1L1709.1 1146.3L1711.8 1175.5L1714.4 1179.5L1717.1 1178.8L1717.1 1115.2zM1722.4 1115.2L1722.4 1155.6L1725.1 1129.1L1727.7 1130.1L1730.4 1179.8L1733.0 1150.3L1733.0 1115.2zM1759.6 1115.2L1759.6 1130.4L1762.2 1147.7L1764.9 1137.0L1764.9 1115.2zM1772.9 1115.2L1772.9 1155.9L1778.2 1143.7L1778.2 1115.2zM1788.8 1115.2L1788.8 1130.4L1791.5 1171.8L1791.5 1115.2zM1796.8 1115.2L1796.8 1156.9L1799.4 1163.3L1802.1 1146.3L1802.1 1115.2zM1844.6 1115.2L1844.6 1170.2L1847.2 1179.8L1849.9 1156.9L1849.9 1115.2zM1908.3 1115.2L1908.3 1154.3L1911.0 1155.9L1916.3 1171.8L1916.3 1115.2zM1924.3 1115.2L1924.3 1176.8L1926.9 1188.4L1929.6 1164.2L1932.2 1163.3L1932.2 1115.2zM1945.5 1115.2L1945.5 1143.7L1948.2 1147.9L1950.8 1137.3L1956.2 1195.7L1956.2 1115.2zM1964.1 1115.2L1964.1 1123.8L1966.8 1139.3L1969.4 1130.4L1969.4 1115.2zM1985.4 1115.2L1985.4 1150.3L1988.0 1155.9L1990.7 1137.0L1990.7 1115.2zM1993.3 1115.2L1993.3 1150.3L1996.0 1155.9L1998.7 1137.0L1998.7 1115.2zM2004.0 1115.2L2004.0 1140.0L2006.6 1140.4L2006.6 1115.2zM2025.2 1115.2L2025.2 1150.3L2027.9 1155.9L2030.5 1118.5L2033.2 1147.7L2038.5 1145.3L2038.5 1115.2zM2081.0 1115.2L2081.0 1127.8L2083.7 1131.1L2086.3 1118.5L2086.3 1115.2zM2089.0 1115.2L2089.0 1143.7L2094.3 1188.4L2094.3 1115.2zM2099.6 1115.2L2099.6 1137.0L2104.9 1163.6L2104.9 1115.2zM2112.9 1115.2L2112.9 1130.4L2118.2 1171.8L2123.5 1127.8L2123.5 1115.2zM2126.2 1115.2L2126.2 1150.3L2128.8 1155.9L2131.5 1130.4L2131.5 1115.2zM2131.5 1115.2L2131.5 1127.8L2136.8 1139.3L2136.8 1115.2z" fill="none" stroke="#ff0000" stroke-width="5.6" stroke-linejoin="round"/>
<path d="M1297.6 1115.2H1302.6V1162.6H1297.6zM1475.5 1115.2H1480.5V1162.6H1475.5zM1563.2 1115.2H1568.2V1137.3H1563.2zM1735.8 1115.2H1740.8V1120.5H1735.8zM1743.8 1115.2H1748.8V1120.5H1743.8zM1754.4 1115.2H1759.4V1129.1H1754.4zM1804.9 1115.2H1809.9V1154.3H1804.9zM1818.2 1115.2H1823.2V1120.5H1818.2zM1820.8 1115.2H1825.8V1145.3H1820.8zM1831.5 1115.2H1836.5V1161.6H1831.5zM1839.4 1115.2H1844.4V1161.6H1839.4zM1858.0 1115.2H1863.0V1120.5H1858.0zM1879.3 1115.2H1884.3V1154.3H1879.3zM1881.9 1115.2H1886.9V1120.5H1881.9zM1887.2 1115.2H1892.2V1145.3H1887.2zM1895.2 1115.2H1900.2V1145.3H1895.2zM1900.5 1115.2H1905.5V1120.5H1900.5zM1937.7 1115.2H1942.7V1170.2H1937.7zM1972.3 1115.2H1977.3V1145.3H1972.3zM1977.6 1115.2H1982.6V1120.5H1977.6zM2012.1 1115.2H2017.1V1145.3H2012.1zM2020.1 1115.2H2025.1V1170.2H2020.1zM2046.6 1115.2H2051.6V1120.5H2046.6zM2065.2 1115.2H2070.2V1161.6H2065.2z" fill="#ff0000"/>
<line x1="1255.3" y1="1115.2" x2="2181.6" y2="1115.2" stroke="#000" stroke-width="2.5" stroke-dasharray="2.5 4.125"/>
<path d="M1278.8 1247.1v-18.7M1544.4 1247.1v-18.7M1810.1 1247.1v-18.7M2075.7 1247.1v-18.7M1255.3 950.8h18.7M1255.3 1115.2h18.7" stroke="#000" stroke-width="4.17" fill="none"/>
<rect x="1255.3" y="948.7" width="926.3" height="298.3" fill="none" stroke="#000" stroke-width="4.17"/>
<text transform="translate(1263.6 992.6) scale(0.951 1)" text-anchor="start">Apr</text>
<path d="M549.1 1413.6L549.1 1394.1L557.0 1369.1L557.0 1413.6zM684.5 1413.6L684.5 1402.9L689.9 1393.0L689.9 1413.6zM809.4 1413.6L809.4 1394.6L814.7 1394.6L814.7 1413.6zM825.3 1413.6L825.3 1375.4L828.0 1335.6L830.6 1362.1L833.3 1408.5L833.3 1413.6zM854.5 1413.6L854.5 1399.2L859.9 1384.9L859.9 1413.6zM867.8 1413.6L867.8 1368.7L870.5 1388.6L873.1 1377.0L873.1 1413.6zM886.4 1413.6L886.4 1386.6L889.1 1384.9L891.7 1407.2L891.7 1413.6zM894.4 1413.6L894.4 1386.6L897.0 1384.9L899.7 1401.9L899.7 1413.6zM910.3 1413.6L910.3 1395.3L913.0 1393.5L915.6 1408.5L915.6 1413.6zM918.3 1413.6L918.3 1379.3L920.9 1377.0L923.6 1401.9L923.6 1413.6zM928.9 1413.6L928.9 1377.0L931.6 1408.5L931.6 1413.6zM950.2 1413.6L950.2 1384.9L952.8 1393.9L952.8 1413.6zM963.4 1413.6L963.4 1392.6L966.1 1393.7L971.4 1408.5L971.4 1413.6zM974.1 1413.6L974.1 1393.9L979.4 1384.9L979.4 1413.6zM982.0 1413.6L982.0 1362.1L987.4 1311.0L990.0 1335.6L990.0 1413.6zM1005.9 1413.6L1005.9 1392.6L1011.3 1353.1L1013.9 1378.0L1013.9 1413.6zM1021.9 1413.6L1021.9 1404.5L1027.2 1393.5L1027.2 1413.6zM1061.7 1413.6L1061.7 1404.5L1064.4 1385.6L1067.0 1396.6L1069.7 1377.6L1069.7 1413.6zM1077.7 1413.6L1077.7 1404.5L1083.0 1393.5L1083.0 1413.6zM1085.6 1413.6L1085.6 1370.7L1088.3 1369.0L1091.0 1401.9L1091.0 1413.6zM1104.2 1413.6L1104.2 1388.6L1106.9 1335.8L1109.5 1386.0L1109.5 1413.6zM1133.5 1413.6L1133.5 1395.0L1136.1 1393.5L1138.8 1401.9L1138.8 1413.6zM1149.4 1413.6L1149.4 1400.6L1154.7 1393.5L1154.7 1413.6zM1165.3 1413.6L1165.3 1386.6L1168.0 1385.6L1170.6 1395.3L1170.6 1413.6zM1178.6 1413.6L1178.6 1386.0L1183.9 1377.6L1183.9 1413.6zM1197.2 1413.6L1197.2 1382.0L1199.9 1353.1L1202.5 1376.0L1202.5 1413.6z" fill="none" stroke="#0000ff" stroke-width="5.6" stroke-linejoin="round"/>
<path d="M692.7 1413.6H697.7V1411.0H692.7zM817.5 1413.6H822.5V1369.8H817.5zM846.7 1413.6H851.7V1385.7H846.7zM875.9 1413.6H880.9V1386.0H875.9zM878.6 1413.6H883.6V1362.1H878.6zM990.2 1413.6H995.2V1353.5H990.2zM1016.7 1413.6H1021.7V1394.6H1016.7zM1032.7 1413.6H1037.7V1353.5H1032.7zM1038.0 1413.6H1043.0V1386.0H1038.0zM1040.6 1413.6H1045.6V1403.2H1040.6zM1093.8 1413.6H1098.8V1362.1H1093.8zM1115.0 1413.6H1120.0V1369.8H1115.0zM1120.3 1413.6H1125.3V1369.8H1120.3zM1144.2 1413.6H1149.2V1378.3H1144.2zM1173.5 1413.6H1178.5V1353.5H1173.5zM1189.4 1413.6H1194.4V1394.6H1189.4zM1208.0 1413.6H1213.0V1369.8H1208.0z" fill="#0000ff"/>
<path d="M368.4 1413.6L368.4 1483.3L373.8 1442.7L373.8 1413.6zM557.0 1413.6L557.0 1435.3L562.3 1426.5L562.3 1413.6zM676.6 1413.6L676.6 1438.1L679.2 1476.8L681.9 1428.8L681.9 1413.6zM796.1 1413.6L796.1 1436.6L801.4 1417.8L804.1 1452.6L806.7 1435.0L806.7 1413.6zM835.9 1413.6L835.9 1460.5L838.6 1417.8L841.3 1435.0L843.9 1436.6L843.9 1413.6zM849.2 1413.6L849.2 1468.2L851.9 1476.8L854.5 1435.0L854.5 1413.6zM859.9 1413.6L859.9 1432.4L862.5 1436.1L865.2 1421.8L865.2 1413.6zM878.4 1413.6L878.4 1425.8L883.8 1425.8L883.8 1413.6zM902.4 1413.6L902.4 1428.4L905.0 1460.5L907.7 1429.7L910.3 1427.8L910.3 1413.6zM931.6 1413.6L931.6 1441.7L936.9 1477.1L936.9 1413.6zM939.5 1413.6L939.5 1439.0L942.2 1445.0L947.5 1460.5L947.5 1413.6zM955.5 1413.6L955.5 1417.1L960.8 1417.1L960.8 1413.6zM995.3 1413.6L995.3 1450.7L998.0 1451.0L1003.3 1461.3L1003.3 1413.6zM1027.2 1413.6L1027.2 1448.3L1029.9 1452.6L1032.5 1428.4L1032.5 1413.6zM1048.5 1413.6L1048.5 1436.6L1053.8 1444.6L1056.4 1436.1L1056.4 1413.6zM1072.4 1413.6L1072.4 1435.0L1077.7 1452.6L1077.7 1413.6zM1096.3 1413.6L1096.3 1435.0L1098.9 1436.6L1098.9 1413.6zM1109.5 1413.6L1109.5 1474.8L1112.2 1485.0L1114.9 1428.4L1114.9 1413.6zM1120.2 1413.6L1120.2 1441.7L1122.8 1477.1L1122.8 1413.6zM1128.1 1413.6L1128.1 1436.6L1130.8 1428.4L1130.8 1413.6zM1138.8 1413.6L1138.8 1454.9L1141.4 1461.2L1144.1 1428.4L1144.1 1413.6zM1157.4 1413.6L1157.4 1452.6L1160.0 1444.6L1162.7 1443.3L1165.3 1435.0L1165.3 1413.6zM1183.9 1413.6L1183.9 1448.3L1186.6 1452.6L1189.2 1425.8L1189.2 1413.6z" fill="none" stroke="#ff0000" stroke-width="5.6" stroke-linejoin="round"/>
<path d="M636.9 1413.6H641.9V1434.6H636.9zM690.0 1413.6H695.0V1442.0H690.0zM809.5 1413.6H814.5V1434.4H809.5zM814.9 1413.6H819.9V1459.6H814.9zM820.2 1413.6H825.2V1442.3H820.2zM873.3 1413.6H878.3V1418.5H873.3zM891.9 1413.6H896.9V1450.7H891.9zM915.8 1413.6H920.8V1434.4H915.8zM921.1 1413.6H926.1V1434.4H921.1zM971.6 1413.6H976.6V1434.4H971.6zM976.9 1413.6H981.9V1434.4H976.9zM987.5 1413.6H992.5V1418.5H987.5zM987.5 1413.6H992.5V1418.5H987.5zM1014.1 1413.6H1019.1V1459.6H1014.1zM1016.7 1413.6H1021.7V1442.3H1016.7zM1035.3 1413.6H1040.3V1450.7H1035.3zM1038.0 1413.6H1043.0V1442.3H1038.0zM1080.5 1413.6H1085.5V1442.3H1080.5zM1091.1 1413.6H1096.1V1466.9H1091.1zM1146.9 1413.6H1151.9V1466.9H1146.9zM1170.8 1413.6H1175.8V1450.7H1170.8zM1176.1 1413.6H1181.1V1466.9H1176.1zM1192.0 1413.6H1197.0V1425.8H1192.0zM1205.3 1413.6H1210.3V1450.7H1205.3zM1210.6 1413.6H1215.6V1418.5H1210.6z" fill="#ff0000"/>
<line x1="329.0" y1="1413.6" x2="1255.3" y2="1413.6" stroke="#000" stroke-width="2.5" stroke-dasharray="2.5 4.125"/>
<path d="M352.5 1545.4v-18.7M618.1 1545.4v-18.7M883.8 1545.4v-18.7M1149.4 1545.4v-18.7M329.0 1249.2h18.7M329.0 1413.6h18.7" stroke="#000" stroke-width="4.17" fill="none"/>
<rect x="329.0" y="1247.1" width="926.3" height="298.3" fill="none" stroke="#000" stroke-width="4.17"/>
<text transform="translate(337.3 1291.0) scale(0.951 1)" text-anchor="start">May</text>
<text transform="translate(309.8 1268.9) scale(0.951 1)" text-anchor="end">20</text>
<text transform="translate(309.8 1433.3) scale(0.951 1)" text-anchor="end">0</text>
<path d="M1483.3 1413.6L1483.3 1388.3L1486.0 1379.5L1486.0 1413.6zM1602.9 1413.6L1602.9 1388.3L1608.2 1405.7L1608.2 1413.6zM1730.4 1413.6L1730.4 1388.6L1733.0 1371.6L1735.7 1396.6L1735.7 1413.6zM1743.7 1413.6L1743.7 1363.0L1746.3 1388.6L1749.0 1398.6L1751.6 1398.8L1751.6 1413.6zM1764.9 1413.6L1764.9 1388.6L1767.6 1363.0L1770.2 1372.7L1770.2 1413.6zM1775.5 1413.6L1775.5 1395.3L1780.8 1371.6L1780.8 1413.6zM1794.1 1413.6L1794.1 1381.3L1796.8 1379.6L1799.4 1396.6L1799.4 1413.6zM1839.3 1413.6L1839.3 1395.3L1844.6 1391.3L1847.2 1362.1L1849.9 1314.0L1849.9 1413.6zM1868.5 1413.6L1868.5 1388.0L1873.8 1388.0L1873.8 1413.6zM1892.4 1413.6L1892.4 1388.6L1897.7 1379.6L1900.4 1395.3L1903.0 1398.6L1905.7 1398.8L1905.7 1413.6zM1934.9 1413.6L1934.9 1398.6L1937.6 1396.8L1940.2 1404.5L1940.2 1413.6zM1948.2 1413.6L1948.2 1388.6L1953.5 1380.3L1953.5 1413.6zM1956.2 1413.6L1956.2 1366.1L1958.8 1363.4L1964.1 1392.6L1966.8 1403.2L1969.4 1396.6L1969.4 1413.6zM1977.4 1413.6L1977.4 1379.6L1980.1 1395.3L1982.7 1396.8L1982.7 1413.6zM1988.0 1413.6L1988.0 1388.2L1990.7 1403.2L1993.3 1404.8L1993.3 1413.6zM2004.0 1413.6L2004.0 1398.6L2006.6 1398.6L2006.6 1413.6zM2019.9 1413.6L2019.9 1382.0L2022.6 1380.3L2025.2 1395.3L2025.2 1413.6zM2035.8 1413.6L2035.8 1365.0L2038.5 1363.4L2041.2 1386.0L2043.8 1388.2L2043.8 1413.6zM2057.1 1413.6L2057.1 1389.3L2059.8 1388.2L2062.4 1395.3L2065.1 1396.2L2065.1 1413.6z" fill="none" stroke="#0000ff" stroke-width="5.6" stroke-linejoin="round"/>
<path d="M1297.6 1413.6H1302.6V1389.5H1297.6zM1475.5 1413.6H1480.5V1405.7H1475.5zM1563.2 1413.6H1568.2V1373.3H1563.2zM1608.3 1413.6H1613.3V1364.5H1608.3zM1722.6 1413.6H1727.6V1405.9H1722.6zM1754.4 1413.6H1759.4V1398.6H1754.4zM1804.9 1413.6H1809.9V1405.9H1804.9zM1815.5 1413.6H1820.5V1341.1H1815.5zM1820.8 1413.6H1825.8V1357.5H1820.8zM1831.5 1413.6H1836.5V1357.5H1831.5zM1860.7 1413.6H1865.7V1389.7H1860.7zM1884.6 1413.6H1889.6V1405.9H1884.6zM1913.8 1413.6H1918.8V1364.8H1913.8zM1919.1 1413.6H1924.1V1389.7H1919.1zM1924.4 1413.6H1929.4V1405.9H1924.4zM1996.2 1413.6H2001.2V1405.9H1996.2zM2014.8 1413.6H2019.8V1364.8H2014.8zM2044.0 1413.6H2049.0V1405.9H2044.0zM2051.9 1413.6H2056.9V1324.7H2051.9zM2070.5 1413.6H2075.5V1389.7H2070.5zM2078.5 1413.6H2083.5V1389.7H2078.5zM2094.4 1413.6H2099.4V1398.6H2094.4zM2099.8 1413.6H2104.8V1405.9H2099.8zM2115.7 1413.6H2120.7V1348.6H2115.7zM2123.7 1413.6H2128.7V1398.6H2123.7zM2134.3 1413.6H2139.3V1373.4H2134.3z" fill="#0000ff"/>
<path d="M1616.2 1413.6L1616.2 1438.1L1618.8 1455.9L1618.8 1413.6zM1738.3 1413.6L1738.3 1445.7L1741.0 1447.9L1741.0 1413.6zM1759.6 1413.6L1759.6 1421.8L1762.2 1440.0L1762.2 1413.6zM1783.5 1413.6L1783.5 1440.0L1786.2 1423.4L1788.8 1421.8L1791.5 1423.4L1794.1 1420.5L1794.1 1413.6zM1802.1 1413.6L1802.1 1423.4L1807.4 1420.5L1810.1 1423.6L1812.7 1420.2L1812.7 1413.6zM1820.7 1413.6L1820.7 1420.5L1823.3 1423.6L1828.7 1423.4L1828.7 1413.6zM1849.9 1413.6L1849.9 1444.3L1852.6 1451.0L1855.2 1456.5L1857.9 1435.0L1857.9 1413.6zM1873.8 1413.6L1873.8 1428.4L1876.5 1432.0L1879.1 1423.8L1881.8 1419.8L1887.1 1440.0L1887.1 1413.6zM1908.3 1413.6L1908.3 1423.1L1911.0 1440.0L1913.7 1428.4L1913.7 1413.6zM1926.9 1413.6L1926.9 1447.0L1929.6 1448.6L1934.9 1456.5L1934.9 1413.6zM1940.2 1413.6L1940.2 1439.0L1942.9 1440.6L1948.2 1456.5L1948.2 1413.6zM2009.3 1413.6L2009.3 1428.4L2011.9 1432.0L2014.6 1421.8L2014.6 1413.6zM2025.2 1413.6L2025.2 1431.7L2030.5 1424.4L2033.2 1432.0L2035.8 1421.8L2035.8 1413.6zM2073.0 1413.6L2073.0 1444.3L2075.7 1448.2L2078.3 1421.8L2078.3 1413.6zM2083.7 1413.6L2083.7 1421.8L2086.3 1439.0L2091.6 1456.5L2091.6 1413.6zM2104.9 1413.6L2104.9 1438.0L2107.6 1440.0L2110.2 1423.4L2112.9 1422.7L2112.9 1413.6zM2120.8 1413.6L2120.8 1439.0L2123.5 1456.5L2126.2 1453.6L2131.5 1456.5L2134.1 1425.8L2134.1 1413.6z" fill="none" stroke="#ff0000" stroke-width="5.6" stroke-linejoin="round"/>
<path d="M1294.9 1413.6H1299.9V1454.3H1294.9zM1478.2 1413.6H1483.2V1420.7H1478.2zM1600.4 1413.6H1605.4V1461.7H1600.4zM1605.7 1413.6H1610.7V1437.0H1605.7zM1719.9 1413.6H1724.9V1454.9H1719.9zM1725.2 1413.6H1730.2V1445.7H1725.2zM1743.8 1413.6H1748.8V1454.9H1743.8zM1751.8 1413.6H1756.8V1437.0H1751.8zM1765.1 1413.6H1770.1V1420.9H1765.1zM1773.0 1413.6H1778.0V1437.0H1773.0zM1863.3 1413.6H1868.3V1415.2H1863.3zM1900.5 1413.6H1905.5V1437.0H1900.5zM1916.5 1413.6H1921.5V1428.4H1916.5zM1919.1 1413.6H1924.1V1437.0H1919.1zM1972.3 1413.6H1977.3V1420.9H1972.3zM1982.9 1413.6H1987.9V1445.7H1982.9zM1993.5 1413.6H1998.5V1420.9H1993.5zM2004.1 1413.6H2009.1V1420.9H2004.1zM2044.0 1413.6H2049.0V1420.9H2044.0zM2065.2 1413.6H2070.2V1420.9H2065.2zM2097.1 1413.6H2102.1V1429.1H2097.1z" fill="#ff0000"/>
<line x1="1255.3" y1="1413.6" x2="2181.6" y2="1413.6" stroke="#000" stroke-width="2.5" stroke-dasharray="2.5 4.125"/>
<path d="M1278.8 1545.4v-18.7M1544.4 1545.4v-18.7M1810.1 1545.4v-18.7M2075.7 1545.4v-18.7M1255.3 1249.2h18.7M1255.3 1413.6h18.7" stroke="#000" stroke-width="4.17" fill="none"/>
<rect x="1255.3" y="1247.1" width="926.3" height="298.3" fill="none" stroke="#000" stroke-width="4.17"/>
<text transform="translate(1263.6 1291.0) scale(0.951 1)" text-anchor="start">Jun</text>
<path d="M559.7 1711.9L559.7 1706.0L562.3 1698.4L562.3 1711.9zM673.9 1711.9L673.9 1707.9L679.2 1707.9L679.2 1711.9zM809.4 1711.9L809.4 1709.2L812.0 1708.5L814.7 1680.0L817.4 1657.7L817.4 1711.9zM820.0 1711.9L820.0 1707.2L825.3 1707.2L825.3 1711.9zM875.8 1711.9L875.8 1707.2L881.1 1707.2L881.1 1711.9zM891.7 1711.9L891.7 1699.9L894.4 1699.5L897.0 1697.9L905.0 1674.3L907.7 1683.3L907.7 1711.9zM915.6 1711.9L915.6 1697.2L918.3 1682.2L920.9 1699.9L923.6 1700.2L923.6 1711.9zM934.2 1711.9L934.2 1690.2L936.9 1705.2L939.5 1706.8L939.5 1711.9zM947.5 1711.9L947.5 1693.3L950.2 1674.3L952.8 1693.3L955.5 1707.8L955.5 1711.9zM963.4 1711.9L963.4 1699.9L968.8 1649.1L968.8 1711.9zM979.4 1711.9L979.4 1698.8L982.0 1707.8L982.0 1711.9zM995.3 1711.9L995.3 1698.8L998.0 1707.8L998.0 1711.9zM1019.2 1711.9L1019.2 1699.9L1024.5 1682.2L1027.2 1705.2L1029.9 1706.8L1029.9 1711.9zM1040.5 1711.9L1040.5 1699.9L1043.1 1698.8L1045.8 1707.8L1045.8 1711.9zM1061.7 1711.9L1061.7 1705.2L1067.0 1698.8L1067.0 1711.9zM1072.4 1711.9L1072.4 1676.0L1075.0 1674.3L1077.7 1706.5L1077.7 1711.9zM1083.0 1711.9L1083.0 1667.4L1085.6 1665.7L1088.3 1703.9L1093.6 1707.2L1096.3 1706.5L1096.3 1711.9zM1109.5 1711.9L1109.5 1691.9L1112.2 1690.2L1114.9 1707.8L1114.9 1711.9zM1152.0 1711.9L1152.0 1680.0L1154.7 1665.7L1154.7 1711.9zM1173.3 1711.9L1173.3 1689.3L1178.6 1682.2L1178.6 1711.9zM1194.5 1711.9L1194.5 1689.5L1199.9 1689.5L1199.9 1711.9z" fill="none" stroke="#0000ff" stroke-width="5.6" stroke-linejoin="round"/>
<path d="M551.9 1711.9H556.9V1699.5H551.9zM682.0 1711.9H687.0V1674.7H682.0zM796.3 1711.9H801.3V1667.4H796.3zM833.4 1711.9H838.4V1691.3H833.4zM838.8 1711.9H843.8V1699.9H838.8zM849.4 1711.9H854.4V1709.2H849.4zM860.0 1711.9H865.0V1658.8H860.0zM881.3 1711.9H886.3V1667.4H881.3zM926.4 1711.9H931.4V1708.5H926.4zM1008.8 1711.9H1013.8V1699.9H1008.8zM1030.0 1711.9H1035.0V1709.2H1030.0zM1051.3 1711.9H1056.3V1709.2H1051.3zM1056.6 1711.9H1061.6V1683.3H1056.6zM1117.7 1711.9H1122.7V1699.9H1117.7zM1125.6 1711.9H1130.6V1683.3H1125.6zM1136.3 1711.9H1141.3V1690.6H1136.3zM1144.2 1711.9H1149.2V1708.5H1144.2zM1184.1 1711.9H1189.1V1633.6H1184.1zM1202.7 1711.9H1207.7V1709.2H1202.7z" fill="#0000ff"/>
<path d="M371.1 1711.9L371.1 1724.5L373.8 1741.2L373.8 1711.9zM551.7 1711.9L551.7 1714.1L557.0 1714.1L557.0 1711.9zM679.2 1711.9L679.2 1724.5L684.5 1725.0L684.5 1711.9zM689.9 1711.9L689.9 1726.8L692.5 1741.2L695.2 1724.5L695.2 1711.9zM798.8 1711.9L798.8 1723.8L801.4 1726.4L806.7 1739.9L806.7 1711.9zM828.0 1711.9L828.0 1739.9L833.3 1740.3L833.3 1711.9zM843.9 1711.9L843.9 1732.6L846.6 1725.8L846.6 1711.9zM851.9 1711.9L851.9 1723.1L854.5 1724.8L857.2 1720.4L859.9 1724.8L862.5 1719.8L862.5 1711.9zM867.8 1711.9L867.8 1732.6L870.5 1725.1L870.5 1711.9zM889.1 1711.9L889.1 1713.8L894.4 1713.8L894.4 1711.9zM907.7 1711.9L907.7 1737.0L910.3 1740.6L913.0 1731.7L913.0 1711.9zM939.5 1711.9L939.5 1732.0L944.9 1732.4L944.9 1711.9zM955.5 1711.9L955.5 1723.8L960.8 1732.6L960.8 1711.9zM968.8 1711.9L968.8 1729.1L971.4 1732.6L974.1 1726.1L976.7 1724.4L976.7 1711.9zM984.7 1711.9L984.7 1720.4L987.4 1725.4L990.0 1724.8L990.0 1711.9zM1000.6 1711.9L1000.6 1719.8L1003.3 1732.6L1005.9 1718.5L1005.9 1711.9zM1011.3 1711.9L1011.3 1740.3L1016.6 1740.7L1016.6 1711.9zM1035.2 1711.9L1035.2 1726.4L1040.5 1740.6L1040.5 1711.9zM1045.8 1711.9L1045.8 1722.4L1048.5 1724.7L1051.1 1716.5L1051.1 1711.9zM1067.0 1711.9L1067.0 1724.4L1072.4 1724.8L1072.4 1711.9zM1077.7 1711.9L1077.7 1724.4L1083.0 1724.8L1083.0 1711.9zM1101.6 1711.9L1101.6 1715.8L1104.2 1717.8L1106.9 1740.6L1109.5 1726.4L1109.5 1711.9zM1130.8 1711.9L1130.8 1721.1L1133.5 1732.6L1136.1 1725.1L1138.8 1723.5L1141.4 1722.7L1141.4 1711.9zM1157.4 1711.9L1157.4 1725.4L1162.7 1720.0L1165.3 1740.6L1173.3 1740.7L1173.3 1711.9zM1178.6 1711.9L1178.6 1737.0L1181.3 1740.6L1183.9 1731.7L1183.9 1711.9zM1189.2 1711.9L1189.2 1716.1L1194.5 1716.5L1194.5 1711.9zM1205.2 1711.9L1205.2 1732.6L1210.5 1732.6L1210.5 1711.9z" fill="none" stroke="#ff0000" stroke-width="5.6" stroke-linejoin="round"/>
<path d="M636.9 1711.9H641.9V1723.4H636.9zM793.6 1711.9H798.6V1713.8H793.6zM809.5 1711.9H814.5V1722.4H809.5zM817.5 1711.9H822.5V1722.4H817.5zM836.1 1711.9H841.1V1714.5H836.1zM878.6 1711.9H883.6V1713.8H878.6zM918.4 1711.9H923.4V1714.5H918.4zM921.1 1711.9H926.1V1722.4H921.1zM929.1 1711.9H934.1V1739.0H929.1zM1030.0 1711.9H1035.0V1730.4H1030.0zM1053.9 1711.9H1058.9V1723.1H1053.9zM1056.6 1711.9H1061.6V1739.0H1056.6zM1091.1 1711.9H1096.1V1723.1H1091.1zM1115.0 1711.9H1120.0V1716.5H1115.0zM1120.3 1711.9H1125.3V1730.4H1120.3zM1146.9 1711.9H1151.9V1723.1H1146.9zM1197.4 1711.9H1202.4V1723.1H1197.4z" fill="#ff0000"/>
<line x1="329.0" y1="1711.9" x2="1255.3" y2="1711.9" stroke="#000" stroke-width="2.5" stroke-dasharray="2.5 4.125"/>
<path d="M352.5 1843.7v-18.7M618.1 1843.7v-18.7M883.8 1843.7v-18.7M1149.4 1843.7v-18.7M329.0 1547.5h18.7M329.0 1711.9h18.7" stroke="#000" stroke-width="4.17" fill="none"/>
<rect x="329.0" y="1545.4" width="926.3" height="298.3" fill="none" stroke="#000" stroke-width="4.17"/>
<text transform="translate(337.3 1589.3) scale(0.951 1)" text-anchor="start">Jul</text>
<text transform="translate(309.8 1567.2) scale(0.951 1)" text-anchor="end">20</text>
<text transform="translate(309.8 1731.6) scale(0.951 1)" text-anchor="end">0</text>
<path d="M1722.4 1711.9L1722.4 1680.7L1725.1 1680.0L1727.7 1660.1L1730.4 1639.8L1733.0 1673.4L1733.0 1711.9zM1738.3 1711.9L1738.3 1690.6L1741.0 1689.5L1743.7 1696.2L1746.3 1697.5L1746.3 1711.9zM1764.9 1711.9L1764.9 1681.3L1770.2 1672.3L1772.9 1682.0L1772.9 1711.9zM1796.8 1711.9L1796.8 1641.5L1799.4 1639.8L1802.1 1706.5L1802.1 1711.9zM1818.0 1711.9L1818.0 1691.9L1823.3 1680.9L1823.3 1711.9zM1834.0 1711.9L1834.0 1689.3L1836.6 1688.6L1839.3 1673.4L1841.9 1656.4L1844.6 1674.7L1847.2 1675.0L1849.9 1690.6L1852.6 1690.9L1852.6 1711.9zM1873.8 1711.9L1873.8 1707.2L1879.1 1707.2L1879.1 1711.9zM1884.4 1711.9L1884.4 1698.6L1887.1 1697.5L1889.7 1707.2L1889.7 1711.9zM1897.7 1711.9L1897.7 1696.8L1903.0 1696.8L1903.0 1711.9zM1908.3 1711.9L1908.3 1693.3L1911.0 1673.0L1913.7 1697.9L1913.7 1711.9zM1929.6 1711.9L1929.6 1699.9L1934.9 1689.5L1937.6 1707.8L1937.6 1711.9zM1942.9 1711.9L1942.9 1703.9L1948.2 1697.5L1948.2 1711.9zM1950.8 1711.9L1950.8 1696.8L1956.2 1696.8L1956.2 1711.9zM1966.8 1711.9L1966.8 1697.2L1969.4 1689.5L1972.1 1706.5L1972.1 1711.9zM1974.8 1711.9L1974.8 1674.7L1977.4 1673.0L1980.1 1706.5L1985.4 1680.9L1988.0 1706.5L1993.3 1673.0L1996.0 1706.5L1996.0 1711.9zM2006.6 1711.9L2006.6 1706.5L2009.3 1650.8L2014.6 1639.8L2017.3 1686.6L2019.9 1681.3L2019.9 1711.9zM2027.9 1711.9L2027.9 1697.2L2030.5 1680.9L2030.5 1711.9zM2043.8 1711.9L2043.8 1697.2L2046.5 1697.5L2049.1 1705.2L2049.1 1711.9zM2059.8 1711.9L2059.8 1690.6L2062.4 1689.5L2065.1 1703.9L2065.1 1711.9zM2086.3 1711.9L2086.3 1697.2L2089.0 1694.6L2094.3 1664.3L2094.3 1711.9zM2110.2 1711.9L2110.2 1699.9L2115.5 1680.9L2118.2 1706.5L2118.2 1711.9zM2134.1 1711.9L2134.1 1696.8L2139.4 1696.8L2139.4 1711.9z" fill="none" stroke="#0000ff" stroke-width="5.6" stroke-linejoin="round"/>
<path d="M1475.5 1711.9H1480.5V1707.2H1475.5zM1563.2 1711.9H1568.2V1707.2H1563.2zM1754.4 1711.9H1759.4V1682.0H1754.4zM1759.7 1711.9H1764.7V1707.2H1759.7zM1781.0 1711.9H1786.0V1707.2H1781.0zM1786.3 1711.9H1791.3V1707.2H1786.3zM1804.9 1711.9H1809.9V1698.6H1804.9zM1812.9 1711.9H1817.9V1674.7H1812.9zM1860.7 1711.9H1865.7V1666.1H1860.7zM2051.9 1711.9H2056.9V1707.8H2051.9zM2070.5 1711.9H2075.5V1690.6H2070.5zM2078.5 1711.9H2083.5V1640.9H2078.5zM2121.0 1711.9H2126.0V1690.6H2121.0z" fill="#0000ff"/>
<path d="M1297.4 1711.9L1297.4 1715.7L1300.1 1723.4L1300.1 1711.9zM1480.7 1711.9L1480.7 1722.2L1483.3 1731.9L1486.0 1731.9L1488.6 1715.7L1488.6 1711.9zM1602.9 1711.9L1602.9 1739.6L1608.2 1731.9L1613.5 1731.9L1616.2 1724.1L1618.8 1723.6L1618.8 1711.9zM1733.0 1711.9L1733.0 1719.8L1735.7 1732.0L1738.3 1723.8L1738.3 1711.9zM1746.3 1711.9L1746.3 1737.0L1749.0 1740.6L1751.6 1740.3L1754.3 1731.7L1754.3 1711.9zM1775.5 1711.9L1775.5 1721.1L1778.2 1732.6L1780.8 1719.8L1780.8 1711.9zM1783.5 1711.9L1783.5 1721.4L1786.2 1724.7L1788.8 1717.1L1788.8 1711.9zM1791.5 1711.9L1791.5 1740.6L1796.8 1731.7L1796.8 1711.9zM1802.1 1711.9L1802.1 1714.7L1807.4 1715.1L1807.4 1711.9zM1823.3 1711.9L1823.3 1738.4L1826.0 1740.7L1828.7 1740.7L1831.3 1721.1L1831.3 1711.9zM1855.2 1711.9L1855.2 1724.0L1857.9 1724.7L1857.9 1711.9zM1865.8 1711.9L1865.8 1721.1L1868.5 1740.6L1871.2 1731.7L1871.2 1711.9zM1879.1 1711.9L1879.1 1740.3L1884.4 1740.7L1884.4 1711.9zM1892.4 1711.9L1892.4 1737.0L1897.7 1748.6L1897.7 1711.9zM1913.7 1711.9L1913.7 1723.8L1916.3 1725.4L1921.6 1740.6L1926.9 1722.4L1926.9 1711.9zM1937.6 1711.9L1937.6 1717.8L1940.2 1724.7L1942.9 1718.5L1942.9 1711.9zM1956.2 1711.9L1956.2 1745.0L1958.8 1748.6L1961.5 1732.4L1964.1 1732.6L1964.1 1711.9zM1996.0 1711.9L1996.0 1722.4L1998.7 1724.4L2001.3 1724.4L2004.0 1716.5L2004.0 1711.9zM2019.9 1711.9L2019.9 1723.8L2025.2 1748.6L2025.2 1711.9zM2033.2 1711.9L2033.2 1722.4L2035.8 1724.4L2038.5 1724.4L2041.2 1716.5L2041.2 1711.9zM2054.4 1711.9L2054.4 1726.4L2059.8 1740.6L2059.8 1711.9zM2073.0 1711.9L2073.0 1740.3L2078.3 1740.6L2078.3 1711.9zM2081.0 1711.9L2081.0 1732.6L2086.3 1732.6L2086.3 1711.9zM2096.9 1711.9L2096.9 1724.0L2099.6 1725.1L2104.9 1748.6L2107.6 1715.8L2107.6 1711.9zM2123.5 1711.9L2123.5 1738.4L2126.2 1740.6L2128.8 1732.0L2131.5 1730.4L2131.5 1711.9z" fill="none" stroke="#ff0000" stroke-width="5.6" stroke-linejoin="round"/>
<path d="M1757.1 1711.9H1762.1V1721.1H1757.1zM1759.7 1711.9H1764.7V1730.4H1759.7zM1807.6 1711.9H1812.6V1722.4H1807.6zM1815.5 1711.9H1820.5V1738.4H1815.5zM1842.1 1711.9H1847.1V1722.4H1842.1zM1844.7 1711.9H1849.7V1738.4H1844.7zM1874.0 1711.9H1879.0V1722.4H1874.0zM1903.2 1711.9H1908.2V1713.2H1903.2zM1945.7 1711.9H1950.7V1713.2H1945.7zM1972.3 1711.9H1977.3V1747.0H1972.3zM2046.6 1711.9H2051.6V1730.4H2046.6zM2065.2 1711.9H2070.2V1730.4H2065.2zM2118.3 1711.9H2123.3V1722.4H2118.3z" fill="#ff0000"/>
<line x1="1255.3" y1="1711.9" x2="2181.6" y2="1711.9" stroke="#000" stroke-width="2.5" stroke-dasharray="2.5 4.125"/>
<path d="M1278.8 1843.7v-18.7M1544.4 1843.7v-18.7M1810.1 1843.7v-18.7M2075.7 1843.7v-18.7M1255.3 1547.5h18.7M1255.3 1711.9h18.7" stroke="#000" stroke-width="4.17" fill="none"/>
<rect x="1255.3" y="1545.4" width="926.3" height="298.3" fill="none" stroke="#000" stroke-width="4.17"/>
<text transform="translate(1263.6 1589.3) scale(0.951 1)" text-anchor="start">Aug</text>
<path d="M780.2 2010.2L780.2 1984.6L782.8 1983.6L785.5 1991.5L785.5 2010.2zM830.6 2010.2L830.6 1984.6L833.3 1944.8L835.9 1917.9L835.9 2010.2zM838.6 2010.2L838.6 1992.8L841.3 1991.5L841.3 2010.2zM862.5 2010.2L862.5 2004.5L867.8 1999.5L867.8 2010.2zM891.7 2010.2L891.7 2000.5L894.4 1999.5L897.0 2007.2L897.0 2010.2zM905.0 2010.2L905.0 1991.3L907.7 1971.4L910.3 1967.0L910.3 2010.2zM952.8 2010.2L952.8 2004.5L955.5 1991.3L958.1 1974.9L958.1 2010.2zM966.1 2010.2L966.1 2004.5L968.8 1999.5L971.4 1999.5L971.4 2010.2zM979.4 2010.2L979.4 1997.9L982.0 1971.4L984.7 1942.5L987.4 1968.0L987.4 2010.2zM1019.2 2010.2L1019.2 1967.4L1021.9 1951.1L1021.9 2010.2zM1040.5 2010.2L1040.5 1971.4L1043.1 1951.1L1043.1 2010.2zM1051.1 2010.2L1051.1 1984.6L1056.4 1984.6L1056.4 2010.2zM1061.7 2010.2L1061.7 1975.6L1064.4 1975.6L1064.4 2010.2zM1075.0 2010.2L1075.0 1983.6L1077.7 1994.6L1080.3 2001.2L1085.6 1983.6L1085.6 2010.2zM1096.3 2010.2L1096.3 2000.5L1098.9 1999.5L1101.6 2007.2L1101.6 2010.2zM1117.5 2010.2L1117.5 2000.5L1120.2 1999.5L1122.8 2007.2L1122.8 2010.2zM1130.8 2010.2L1130.8 1951.1L1133.5 1971.4L1138.8 1951.1L1141.4 1978.0L1144.1 1974.9L1146.7 2003.2L1146.7 2010.2zM1152.0 2010.2L1152.0 1959.0L1154.7 1959.0L1154.7 2010.2z" fill="none" stroke="#0000ff" stroke-width="5.6" stroke-linejoin="round"/>
<path d="M551.9 2010.2H556.9V1992.9H551.9zM557.2 2010.2H562.2V1977.4H557.2zM636.9 2010.2H641.9V2009.3H636.9zM682.0 2010.2H687.0V1968.1H682.0zM692.7 2010.2H697.7V1984.3H692.7zM775.0 2010.2H780.0V2000.5H775.0zM796.3 2010.2H801.3V1960.8H796.3zM870.6 2010.2H875.6V1993.2H870.6zM881.3 2010.2H886.3V1968.4H881.3zM915.8 2010.2H920.8V1977.3H915.8zM921.1 2010.2H926.1V2000.5H921.1zM939.7 2010.2H944.7V1968.4H939.7zM1027.4 2010.2H1032.4V2000.5H1027.4zM1104.4 2010.2H1109.4V1968.4H1104.4zM1192.0 2010.2H1197.0V1960.8H1192.0zM1205.3 2010.2H1210.3V2000.5H1205.3zM1210.6 2010.2H1215.6V1993.2H1210.6z" fill="#0000ff"/>
<path d="M676.6 2010.2L676.6 2050.3L679.2 2015.6L681.9 2067.7L681.9 2010.2zM689.9 2010.2L689.9 2058.4L692.5 2050.3L692.5 2010.2zM764.2 2010.2L764.2 2048.3L766.9 2056.2L769.5 2058.5L769.5 2010.2zM793.4 2010.2L793.4 2019.1L796.1 2034.6L796.1 2010.2zM801.4 2010.2L801.4 2050.9L804.1 2075.7L806.7 2034.0L809.4 2032.4L812.0 2024.4L817.4 2051.2L820.0 2026.0L822.7 2034.6L822.7 2010.2zM843.9 2010.2L843.9 2024.4L846.6 2035.0L849.2 2024.4L849.2 2010.2zM851.9 2010.2L851.9 2031.0L854.5 2059.2L859.9 2051.2L862.5 2050.3L862.5 2010.2zM875.8 2010.2L875.8 2017.8L878.4 2035.0L881.1 2015.4L881.1 2010.2zM886.4 2010.2L886.4 2044.3L889.1 2051.2L891.7 2035.0L891.7 2010.2zM910.3 2010.2L910.3 2031.0L913.0 2035.0L915.6 2021.8L915.6 2010.2zM918.3 2010.2L918.3 2037.7L920.9 2043.2L920.9 2010.2zM926.3 2010.2L926.3 2037.7L928.9 2043.2L931.6 2017.1L934.2 2018.4L939.5 2051.2L939.5 2010.2zM944.9 2010.2L944.9 2027.1L947.5 2035.0L950.2 2018.4L950.2 2010.2zM958.1 2010.2L958.1 2048.3L960.8 2051.2L963.4 2043.0L963.4 2010.2zM971.4 2010.2L971.4 2024.4L976.7 2051.2L976.7 2010.2zM990.0 2010.2L990.0 2048.3L992.7 2059.2L992.7 2010.2zM998.0 2010.2L998.0 2017.8L1000.6 2041.9L1005.9 2042.3L1005.9 2010.2zM1011.3 2010.2L1011.3 2024.4L1013.9 2034.6L1016.6 2019.1L1016.6 2010.2zM1021.9 2010.2L1021.9 2024.4L1024.5 2051.2L1027.2 2037.7L1027.2 2010.2zM1032.5 2010.2L1032.5 2024.4L1035.2 2067.8L1037.8 2021.8L1037.8 2010.2zM1043.1 2010.2L1043.1 2061.5L1045.8 2067.8L1048.5 2037.7L1048.5 2010.2zM1067.0 2010.2L1067.0 2077.5L1069.7 2083.7L1072.4 2031.0L1072.4 2010.2zM1085.6 2010.2L1085.6 2024.4L1088.3 2058.9L1091.0 2059.8L1096.3 2067.8L1096.3 2010.2zM1106.9 2010.2L1106.9 2067.8L1112.2 2064.9L1114.9 2067.8L1117.5 2037.7L1117.5 2010.2zM1122.8 2010.2L1122.8 2018.0L1128.1 2018.0L1128.1 2010.2zM1154.7 2010.2L1154.7 2024.4L1160.0 2051.2L1162.7 2037.7L1162.7 2010.2zM1165.3 2010.2L1165.3 2026.4L1168.0 2026.8L1170.6 2017.8L1176.0 2017.8L1178.6 2059.2L1181.3 2025.7L1183.9 2024.7L1189.2 2042.6L1191.9 2021.8L1197.2 2034.6L1199.9 2017.8L1199.9 2010.2z" fill="none" stroke="#ff0000" stroke-width="5.6" stroke-linejoin="round"/>
<path d="M371.3 2010.2H376.3V2033.4H371.3zM549.2 2010.2H554.2V2024.8H549.2zM554.5 2010.2H559.5V2049.6H554.5zM559.8 2010.2H564.8V2040.6H559.8zM772.4 2010.2H777.4V2015.1H772.4zM777.7 2010.2H782.7V2033.0H777.7zM828.1 2010.2H833.1V2015.8H828.1zM836.1 2010.2H841.1V2015.8H836.1zM868.0 2010.2H873.0V2065.5H868.0zM897.2 2010.2H902.2V2040.3H897.2zM899.9 2010.2H904.9V2033.0H899.9zM1051.3 2010.2H1056.3V2048.9H1051.3zM1056.6 2010.2H1061.6V2024.4H1056.6zM1099.1 2010.2H1104.1V2024.4H1099.1zM1136.3 2010.2H1141.3V2073.5H1136.3zM1146.9 2010.2H1151.9V2016.5H1146.9zM1202.7 2010.2H1207.7V2033.0H1202.7zM1208.0 2010.2H1213.0V2040.3H1208.0z" fill="#ff0000"/>
<line x1="329.0" y1="2010.2" x2="1255.3" y2="2010.2" stroke="#000" stroke-width="2.5" stroke-dasharray="2.5 4.125"/>
<path d="M352.5 2142.1v-18.7M618.1 2142.1v-18.7M883.8 2142.1v-18.7M1149.4 2142.1v-18.7M329.0 1845.8h18.7M329.0 2010.2h18.7" stroke="#000" stroke-width="4.17" fill="none"/>
<rect x="329.0" y="1843.7" width="926.3" height="298.3" fill="none" stroke="#000" stroke-width="4.17"/>
<text transform="translate(337.3 1887.6) scale(0.951 1)" text-anchor="start">Sep</text>
<text transform="translate(309.8 1865.6) scale(0.951 1)" text-anchor="end">20</text>
<text transform="translate(309.8 2030.0) scale(0.951 1)" text-anchor="end">0</text>
<path d="M1602.9 2010.2L1602.9 2001.7L1608.2 1994.0L1608.2 2010.2zM1717.1 2010.2L1717.1 1996.2L1719.7 1995.9L1722.4 1994.2L1725.1 2003.2L1725.1 2010.2zM1756.9 2010.2L1756.9 1987.3L1759.6 1968.7L1762.2 1953.1L1762.2 2010.2zM1794.1 2010.2L1794.1 1978.0L1799.4 1953.1L1799.4 2010.2zM1810.1 2010.2L1810.1 1995.2L1815.4 1985.6L1815.4 2010.2zM1849.9 2010.2L1849.9 1984.6L1852.6 1969.6L1857.9 1976.7L1860.5 1969.6L1863.2 1983.3L1863.2 2010.2zM1905.7 2010.2L1905.7 1995.2L1908.3 1993.9L1911.0 1971.4L1913.7 1945.1L1916.3 1962.7L1916.3 2010.2zM2017.3 2010.2L2017.3 1986.6L2019.9 1985.6L2022.6 2004.5L2022.6 2010.2zM2046.5 2010.2L2046.5 1986.0L2049.1 1984.6L2051.8 1958.1L2054.4 1920.6L2057.1 1945.5L2057.1 2010.2zM2067.7 2010.2L2067.7 1970.0L2070.4 1968.7L2075.7 1953.7L2075.7 2010.2zM2078.3 2010.2L2078.3 1997.9L2083.7 1985.6L2083.7 2010.2zM2104.9 2010.2L2104.9 1993.9L2110.2 1985.6L2110.2 2010.2zM2112.9 2010.2L2112.9 1979.3L2115.5 1977.6L2118.2 2001.9L2118.2 2010.2z" fill="none" stroke="#0000ff" stroke-width="5.6" stroke-linejoin="round"/>
<path d="M1483.5 2010.2H1488.5V1995.9H1483.5zM1698.7 2010.2H1703.7V1995.9H1698.7zM1706.6 2010.2H1711.6V1995.9H1706.6zM1733.2 2010.2H1738.2V1930.0H1733.2zM1741.2 2010.2H1746.2V1979.6H1741.2zM1765.1 2010.2H1770.1V1954.8H1765.1zM1778.3 2010.2H1783.3V1913.7H1778.3zM1783.7 2010.2H1788.7V1987.3H1783.7zM1820.8 2010.2H1825.8V1963.4H1820.8zM1826.2 2010.2H1831.2V1938.5H1826.2zM1836.8 2010.2H1841.8V2003.2H1836.8zM1844.7 2010.2H1849.7V2003.2H1844.7zM1863.3 2010.2H1868.3V1963.4H1863.3zM1881.9 2010.2H1886.9V1987.3H1881.9zM1921.8 2010.2H1926.8V1930.0H1921.8zM1945.7 2010.2H1950.7V2003.2H1945.7zM1964.3 2010.2H1969.3V1970.7H1964.3zM1977.6 2010.2H1982.6V1963.4H1977.6zM1982.9 2010.2H1987.9V1946.2H1982.9zM2004.1 2010.2H2009.1V1979.6H2004.1zM2006.8 2010.2H2011.8V1987.3H2006.8zM2022.7 2010.2H2027.7V1963.4H2022.7zM2030.7 2010.2H2035.7V1987.3H2030.7zM2083.8 2010.2H2088.8V1979.6H2083.8zM2097.1 2010.2H2102.1V2003.2H2097.1zM2123.7 2010.2H2128.7V1979.6H2123.7zM2136.9 2010.2H2141.9V1963.4H2136.9z" fill="#0000ff"/>
<path d="M1297.4 2010.2L1297.4 2069.3L1300.1 2060.7L1300.1 2010.2zM1478.0 2010.2L1478.0 2043.4L1480.7 2062.4L1480.7 2010.2zM1610.8 2010.2L1610.8 2044.5L1613.5 2017.4L1618.8 2086.7L1618.8 2010.2zM1690.5 2010.2L1690.5 2077.7L1693.2 2050.9L1695.8 2017.8L1695.8 2010.2zM1701.2 2010.2L1701.2 2074.8L1703.8 2078.1L1706.5 2078.1L1709.1 2037.7L1709.1 2010.2zM1725.1 2010.2L1725.1 2036.4L1727.7 2037.9L1733.0 2078.4L1733.0 2010.2zM1735.7 2010.2L1735.7 2024.4L1741.0 2037.9L1741.0 2010.2zM1746.3 2010.2L1746.3 2095.0L1751.6 2077.5L1754.3 2078.4L1756.9 2031.0L1756.9 2010.2zM1762.2 2010.2L1762.2 2048.3L1764.9 2053.9L1767.6 2021.8L1767.6 2010.2zM1772.9 2010.2L1772.9 2050.9L1778.2 2069.8L1778.2 2010.2zM1783.5 2010.2L1783.5 2030.0L1786.2 2028.7L1786.2 2010.2zM1802.1 2010.2L1802.1 2037.7L1807.4 2053.9L1810.1 2021.8L1810.1 2010.2zM1818.0 2010.2L1818.0 2061.8L1823.3 2059.2L1826.0 2059.2L1831.3 2061.8L1834.0 2024.4L1834.0 2010.2zM1839.3 2010.2L1839.3 2019.1L1844.6 2037.9L1844.6 2010.2zM1868.5 2010.2L1868.5 2069.5L1871.2 2071.1L1873.8 2020.4L1876.5 2088.3L1879.1 2035.7L1881.8 2061.8L1884.4 2021.8L1884.4 2010.2zM1887.1 2010.2L1887.1 2048.3L1889.7 2053.9L1892.4 2024.4L1892.4 2010.2zM1895.1 2010.2L1895.1 2024.4L1900.4 2053.9L1903.0 2022.0L1905.7 2020.7L1905.7 2010.2zM1916.3 2010.2L1916.3 2043.0L1921.6 2069.8L1924.3 2037.7L1924.3 2010.2zM1926.9 2010.2L1926.9 2037.7L1929.6 2044.6L1932.2 2026.0L1937.6 2026.3L1940.2 2036.1L1942.9 2037.9L1945.5 2053.2L1945.5 2010.2zM1950.8 2010.2L1950.8 2070.8L1953.5 2077.1L1956.2 2069.5L1961.5 2069.8L1966.8 2053.6L1966.8 2010.2zM1972.1 2010.2L1972.1 2050.9L1974.8 2069.1L1977.4 2064.2L1977.4 2010.2zM1985.4 2010.2L1985.4 2061.5L1988.0 2062.5L1990.7 2050.9L1993.3 2102.3L1998.7 2080.1L2001.3 2057.6L2004.0 2044.3L2004.0 2010.2zM2011.9 2010.2L2011.9 2031.0L2014.6 2069.8L2017.3 2050.9L2017.3 2010.2zM2025.2 2010.2L2025.2 2035.7L2027.9 2035.7L2027.9 2010.2zM2033.2 2010.2L2033.2 2068.2L2038.5 2069.8L2041.2 2018.4L2043.8 2064.2L2046.5 2102.3L2046.5 2010.2zM2059.8 2010.2L2059.8 2024.4L2062.4 2077.7L2065.1 2023.1L2067.7 2020.7L2067.7 2010.2zM2091.6 2010.2L2091.6 2036.4L2094.3 2053.9L2096.9 2027.1L2096.9 2010.2zM2102.3 2010.2L2102.3 2024.4L2104.9 2086.4L2104.9 2010.2zM2118.2 2010.2L2118.2 2064.2L2120.8 2069.8L2123.5 2037.9L2126.2 2037.3L2126.2 2010.2zM2131.5 2010.2L2131.5 2090.7L2134.1 2102.3L2136.8 2077.5L2136.8 2010.2z" fill="none" stroke="#ff0000" stroke-width="5.6" stroke-linejoin="round"/>
<path d="M1486.1 2010.2H1491.1V2068.4H1486.1zM1563.2 2010.2H1568.2V2043.4H1563.2zM1600.4 2010.2H1605.4V2052.2H1600.4zM1711.9 2010.2H1716.9V2018.4H1711.9zM1717.2 2010.2H1722.2V2059.6H1717.2zM1786.3 2010.2H1791.3V2059.6H1786.3zM1844.7 2010.2H1849.7V2027.1H1844.7zM1863.3 2010.2H1868.3V2093.4H1863.3zM1980.2 2010.2H1985.2V2075.5H1980.2zM2075.8 2010.2H2080.8V2027.1H2075.8zM2110.4 2010.2H2115.4V2043.0H2110.4z" fill="#ff0000"/>
<line x1="1255.3" y1="2010.2" x2="2181.6" y2="2010.2" stroke="#000" stroke-width="2.5" stroke-dasharray="2.5 4.125"/>
<path d="M1278.8 2142.1v-18.7M1544.4 2142.1v-18.7M1810.1 2142.1v-18.7M2075.7 2142.1v-18.7M1255.3 1845.8h18.7M1255.3 2010.2h18.7" stroke="#000" stroke-width="4.17" fill="none"/>
<rect x="1255.3" y="1843.7" width="926.3" height="298.3" fill="none" stroke="#000" stroke-width="4.17"/>
<text transform="translate(1263.6 1887.6) scale(0.951 1)" text-anchor="start">Oct</text>
<path d="M785.5 2308.6L785.5 2284.7L788.1 2283.0L790.8 2300.6L790.8 2308.6zM801.4 2308.6L801.4 2252.2L804.1 2250.5L806.7 2276.1L812.0 2291.0L812.0 2308.6zM854.5 2308.6L854.5 2302.6L859.9 2283.0L859.9 2308.6zM947.5 2308.6L947.5 2273.4L952.8 2266.4L952.8 2308.6zM958.1 2308.6L958.1 2276.1L960.8 2266.4L963.4 2292.0L966.1 2292.3L966.1 2308.6zM968.8 2308.6L968.8 2260.2L971.4 2258.5L974.1 2282.7L974.1 2308.6zM1011.3 2308.6L1011.3 2268.1L1013.9 2266.8L1016.6 2290.0L1016.6 2308.6zM1040.5 2308.6L1040.5 2276.1L1043.1 2274.8L1045.8 2284.1L1048.5 2266.8L1051.1 2302.6L1051.1 2308.6zM1053.8 2308.6L1053.8 2252.2L1056.4 2250.5L1059.1 2276.1L1059.1 2308.6zM1138.8 2308.6L1138.8 2305.3L1141.4 2299.6L1141.4 2308.6zM1146.7 2308.6L1146.7 2256.2L1149.4 2226.0L1149.4 2308.6zM1152.0 2308.6L1152.0 2252.2L1154.7 2250.5L1157.4 2289.4L1157.4 2308.6zM1160.0 2308.6L1160.0 2284.7L1162.7 2283.3L1165.3 2304.0L1165.3 2308.6zM1197.2 2308.6L1197.2 2253.6L1199.9 2218.0L1199.9 2308.6zM1205.2 2308.6L1205.2 2299.6L1210.5 2299.6L1210.5 2308.6z" fill="none" stroke="#0000ff" stroke-width="5.6" stroke-linejoin="round"/>
<path d="M682.0 2308.6H687.0V2259.5H682.0zM759.1 2308.6H764.1V2301.0H759.1zM820.2 2308.6H825.2V2243.6H820.2zM838.8 2308.6H843.8V2292.0H838.8zM846.7 2308.6H851.7V2259.9H846.7zM860.0 2308.6H865.0V2268.8H860.0zM870.6 2308.6H875.6V2292.0H870.6zM878.6 2308.6H883.6V2268.8H878.6zM894.5 2308.6H899.5V2227.3H894.5zM907.8 2308.6H912.8V2301.0H907.8zM921.1 2308.6H926.1V2301.0H921.1zM931.7 2308.6H936.7V2268.8H931.7zM939.7 2308.6H944.7V2227.3H939.7zM976.9 2308.6H981.9V2284.7H976.9zM987.5 2308.6H992.5V2305.9H987.5zM1000.8 2308.6H1005.8V2292.0H1000.8zM1064.5 2308.6H1069.5V2276.1H1064.5zM1069.9 2308.6H1074.9V2301.0H1069.9zM1080.5 2308.6H1085.5V2292.0H1080.5zM1093.8 2308.6H1098.8V2268.8H1093.8zM1107.0 2308.6H1112.0V2301.0H1107.0zM1128.3 2308.6H1133.3V2268.8H1128.3zM1168.1 2308.6H1173.1V2292.0H1168.1zM1173.5 2308.6H1178.5V2243.6H1173.5zM1176.1 2308.6H1181.1V2292.0H1176.1zM1184.1 2308.6H1189.1V2268.8H1184.1zM1189.4 2308.6H1194.4V2301.0H1189.4z" fill="#0000ff"/>
<path d="M371.1 2308.6L371.1 2382.2L373.8 2407.0L373.8 2308.6zM551.7 2308.6L551.7 2352.1L557.0 2382.7L559.7 2338.2L562.3 2316.2L562.3 2308.6zM676.6 2308.6L676.6 2374.6L681.9 2374.6L681.9 2308.6zM689.9 2308.6L689.9 2382.2L692.5 2361.4L692.5 2308.6zM764.2 2308.6L764.2 2362.3L766.9 2365.9L769.5 2329.2L774.9 2373.8L777.5 2315.9L782.8 2365.9L785.5 2332.5L785.5 2308.6zM796.1 2308.6L796.1 2357.9L798.8 2342.4L801.4 2324.5L801.4 2308.6zM812.0 2308.6L812.0 2388.8L814.7 2398.4L817.4 2362.3L820.0 2329.2L820.0 2308.6zM825.3 2308.6L825.3 2341.1L828.0 2342.7L833.3 2407.0L835.9 2324.5L841.3 2390.4L843.9 2340.4L846.6 2340.7L846.6 2308.6zM849.2 2308.6L849.2 2335.8L851.9 2357.9L854.5 2342.4L854.5 2308.6zM865.2 2308.6L865.2 2361.0L867.8 2365.9L870.5 2345.1L870.5 2308.6zM873.1 2308.6L873.1 2374.2L875.8 2375.2L881.1 2415.0L881.1 2308.6zM886.4 2308.6L886.4 2365.9L889.1 2355.7L891.7 2332.5L894.4 2357.9L894.4 2308.6zM899.7 2308.6L899.7 2329.2L902.4 2357.9L905.0 2331.8L905.0 2308.6zM913.0 2308.6L913.0 2329.2L915.6 2350.0L920.9 2350.1L920.9 2308.6zM926.3 2308.6L926.3 2342.4L928.9 2357.9L928.9 2308.6zM936.9 2308.6L936.9 2366.3L939.5 2382.5L942.2 2375.6L942.2 2308.6zM982.0 2308.6L982.0 2341.1L987.4 2350.4L987.4 2308.6zM998.0 2308.6L998.0 2335.8L1000.6 2350.0L1003.3 2342.4L1003.3 2308.6zM1005.9 2308.6L1005.9 2355.7L1011.3 2374.5L1013.9 2349.0L1013.9 2308.6zM1019.2 2308.6L1019.2 2342.7L1021.9 2324.5L1024.5 2390.4L1027.2 2347.7L1029.9 2347.3L1032.5 2315.9L1035.2 2374.5L1037.8 2342.4L1040.5 2316.6L1040.5 2308.6zM1059.1 2308.6L1059.1 2329.2L1061.7 2334.1L1064.4 2322.5L1064.4 2308.6zM1075.0 2308.6L1075.0 2362.3L1077.7 2383.1L1080.3 2349.0L1080.3 2308.6zM1088.3 2308.6L1088.3 2368.9L1091.0 2399.0L1093.6 2329.2L1093.6 2308.6zM1096.3 2308.6L1096.3 2408.7L1098.9 2422.9L1101.6 2383.1L1104.2 2382.5L1106.9 2355.7L1106.9 2308.6zM1112.2 2308.6L1112.2 2358.6L1114.9 2316.6L1117.5 2365.9L1120.2 2355.7L1122.8 2329.2L1122.8 2308.6zM1130.8 2308.6L1130.8 2326.5L1133.5 2331.8L1136.1 2334.1L1136.1 2308.6z" fill="none" stroke="#ff0000" stroke-width="5.6" stroke-linejoin="round"/>
<path d="M581.1 2308.6H586.1V2323.2H581.1zM636.9 2308.6H641.9V2348.2H636.9zM857.4 2308.6H862.4V2340.4H857.4zM945.0 2308.6H950.0V2414.0H945.0zM953.0 2308.6H958.0V2331.8H953.0zM958.3 2308.6H963.3V2357.0H958.3zM966.3 2308.6H971.3V2323.2H966.3zM976.9 2308.6H981.9V2340.4H976.9zM992.8 2308.6H997.8V2357.0H992.8zM1051.3 2308.6H1056.3V2348.4H1051.3zM1067.2 2308.6H1072.2V2348.4H1067.2zM1125.6 2308.6H1130.6V2315.2H1125.6zM1138.9 2308.6H1143.9V2340.4H1138.9zM1149.5 2308.6H1154.5V2331.8H1149.5zM1154.9 2308.6H1159.9V2340.4H1154.9zM1165.5 2308.6H1170.5V2398.1H1165.5zM1170.8 2308.6H1175.8V2323.2H1170.8zM1176.1 2308.6H1181.1V2380.2H1176.1zM1178.8 2308.6H1183.8V2315.9H1178.8zM1186.7 2308.6H1191.7V2389.5H1186.7zM1192.0 2308.6H1197.0V2323.2H1192.0zM1197.4 2308.6H1202.4V2348.4H1197.4zM1210.6 2308.6H1215.6V2372.9H1210.6z" fill="#ff0000"/>
<line x1="329.0" y1="2308.6" x2="1255.3" y2="2308.6" stroke="#000" stroke-width="2.5" stroke-dasharray="2.5 4.125"/>
<path d="M352.5 2440.4v-18.7M618.1 2440.4v-18.7M883.8 2440.4v-18.7M1149.4 2440.4v-18.7M329.0 2144.2h18.7M329.0 2308.6h18.7" stroke="#000" stroke-width="4.17" fill="none"/>
<rect x="329.0" y="2142.1" width="926.3" height="298.3" fill="none" stroke="#000" stroke-width="4.17"/>
<text transform="translate(337.3 2186.0) scale(0.951 1)" text-anchor="start">Nov</text>
<text transform="translate(309.8 2163.9) scale(0.951 1)" text-anchor="end">20</text>
<text transform="translate(309.8 2328.3) scale(0.951 1)" text-anchor="end">0</text>
<text transform="translate(351.0 2499.5) scale(0.951 1)" text-anchor="middle">1700</text>
<text transform="translate(616.6 2499.5) scale(0.951 1)" text-anchor="middle">1800</text>
<text transform="translate(882.3 2499.5) scale(0.951 1)" text-anchor="middle">1900</text>
<text transform="translate(1149.4 2499.5) scale(0.951 1)" text-anchor="middle">2000</text>
<path d="M1725.1 2308.6L1725.1 2229.7L1727.7 2221.3L1727.7 2308.6zM1772.9 2308.6L1772.9 2282.7L1775.5 2271.1L1775.5 2308.6zM1865.8 2308.6L1865.8 2296.0L1871.2 2287.0L1871.2 2308.6zM1900.4 2308.6L1900.4 2302.6L1903.0 2279.0L1905.7 2295.3L1905.7 2308.6zM1964.1 2308.6L1964.1 2276.1L1966.8 2262.4L1969.4 2296.0L1969.4 2308.6zM1977.4 2308.6L1977.4 2286.7L1980.1 2269.5L1982.7 2254.5L1982.7 2308.6zM2014.6 2308.6L2014.6 2264.2L2017.3 2262.4L2019.9 2289.4L2019.9 2308.6zM2073.0 2308.6L2073.0 2288.0L2075.7 2286.7L2078.3 2273.4L2081.0 2262.4L2083.7 2289.4L2089.0 2262.4L2089.0 2308.6zM2096.9 2308.6L2096.9 2260.2L2099.6 2245.9L2102.3 2271.5L2104.9 2272.4L2107.6 2262.4L2107.6 2308.6zM2118.2 2308.6L2118.2 2288.0L2120.8 2287.0L2123.5 2297.3L2126.2 2269.5L2128.8 2245.9L2131.5 2287.0L2131.5 2308.6z" fill="none" stroke="#0000ff" stroke-width="5.6" stroke-linejoin="round"/>
<path d="M1480.8 2308.6H1485.8V2295.8H1480.8zM1600.4 2308.6H1605.4V2305.8H1600.4zM1605.7 2308.6H1610.7V2279.6H1605.7zM1701.3 2308.6H1706.3V2279.8H1701.3zM1733.2 2308.6H1738.2V2231.3H1733.2zM1738.5 2308.6H1743.5V2263.5H1738.5zM1743.8 2308.6H1748.8V2240.0H1743.8zM1746.5 2308.6H1751.5V2255.9H1746.5zM1759.7 2308.6H1764.7V2296.0H1759.7zM1765.1 2308.6H1770.1V2288.4H1765.1zM1794.3 2308.6H1799.3V2288.4H1794.3zM1807.6 2308.6H1812.6V2263.5H1807.6zM1815.5 2308.6H1820.5V2272.1H1815.5zM1826.2 2308.6H1831.2V2263.5H1826.2zM1831.5 2308.6H1836.5V2305.0H1831.5zM1844.7 2308.6H1849.7V2263.5H1844.7zM1847.4 2308.6H1852.4V2239.6H1847.4zM1860.7 2308.6H1865.7V2247.3H1860.7zM1874.0 2308.6H1879.0V2288.4H1874.0zM1879.3 2308.6H1884.3V2272.1H1879.3zM1892.6 2308.6H1897.6V2305.0H1892.6zM1911.2 2308.6H1916.2V2279.8H1911.2zM1919.1 2308.6H1924.1V2279.8H1919.1zM1940.4 2308.6H1945.4V2247.3H1940.4zM1943.0 2308.6H1948.0V2279.8H1943.0zM1953.7 2308.6H1958.7V2255.9H1953.7zM2006.8 2308.6H2011.8V2272.1H2006.8zM2022.7 2308.6H2027.7V2272.1H2022.7zM2054.6 2308.6H2059.6V2279.8H2054.6zM2059.9 2308.6H2064.9V2296.0H2059.9z" fill="#0000ff"/>
<path d="M1475.4 2308.6L1475.4 2369.9L1480.7 2361.4L1480.7 2308.6zM1486.0 2308.6L1486.0 2354.4L1488.6 2319.7L1488.6 2308.6zM1613.5 2308.6L1613.5 2361.4L1616.2 2375.3L1618.8 2395.4L1618.8 2308.6zM1690.5 2308.6L1690.5 2378.5L1693.2 2345.1L1695.8 2394.4L1698.5 2355.7L1698.5 2308.6zM1703.8 2308.6L1703.8 2395.5L1706.5 2411.0L1709.1 2361.2L1711.8 2361.9L1714.4 2329.2L1717.1 2338.0L1717.1 2308.6zM1751.6 2308.6L1751.6 2362.6L1756.9 2355.0L1759.6 2354.0L1759.6 2308.6zM1778.2 2308.6L1778.2 2339.8L1783.5 2354.0L1786.2 2319.9L1788.8 2319.6L1791.5 2355.7L1794.1 2394.4L1794.1 2308.6zM1802.1 2308.6L1802.1 2349.0L1807.4 2361.9L1810.1 2362.0L1810.1 2308.6zM1820.7 2308.6L1820.7 2355.7L1823.3 2371.2L1826.0 2342.4L1828.7 2319.6L1828.7 2308.6zM1836.6 2308.6L1836.6 2315.9L1839.3 2339.8L1844.6 2354.0L1847.2 2335.4L1849.9 2335.5L1849.9 2308.6zM1855.2 2308.6L1855.2 2329.2L1857.9 2338.0L1860.5 2329.2L1860.5 2308.6zM1881.8 2308.6L1881.8 2345.1L1884.4 2346.0L1887.1 2335.8L1889.7 2315.9L1892.4 2362.6L1892.4 2308.6zM1913.7 2308.6L1913.7 2366.3L1916.3 2371.2L1919.0 2345.1L1919.0 2308.6zM1924.3 2308.6L1924.3 2361.6L1926.9 2362.6L1929.6 2352.0L1932.2 2378.5L1934.9 2369.2L1937.6 2370.5L1940.2 2329.2L1940.2 2308.6zM1948.2 2308.6L1948.2 2342.4L1950.8 2368.9L1953.5 2394.4L1953.5 2308.6zM1956.2 2308.6L1956.2 2358.3L1958.8 2362.6L1961.5 2353.7L1961.5 2308.6zM1972.1 2308.6L1972.1 2353.0L1974.8 2370.5L1977.4 2329.2L1977.4 2308.6zM1985.4 2308.6L1985.4 2345.3L1988.0 2328.1L1990.7 2352.8L1993.3 2355.0L1998.7 2362.2L2001.3 2353.7L2004.0 2345.3L2006.6 2345.7L2009.3 2337.4L2009.3 2308.6zM2027.9 2308.6L2027.9 2345.7L2030.5 2345.7L2033.2 2328.1L2035.8 2354.0L2038.5 2353.3L2041.2 2319.6L2043.8 2394.4L2046.5 2368.9L2049.1 2336.0L2051.8 2394.4L2054.4 2355.7L2054.4 2308.6zM2062.4 2308.6L2062.4 2335.8L2065.1 2338.0L2067.7 2336.4L2070.4 2338.0L2073.0 2327.8L2073.0 2308.6zM2089.0 2308.6L2089.0 2368.9L2091.6 2402.1L2094.3 2427.6L2094.3 2308.6zM2107.6 2308.6L2107.6 2349.0L2110.2 2354.0L2112.9 2328.1L2115.5 2327.2L2118.2 2378.5L2118.2 2308.6zM2134.1 2308.6L2134.1 2313.9L2136.8 2320.8L2139.4 2315.9L2139.4 2308.6z" fill="none" stroke="#ff0000" stroke-width="5.6" stroke-linejoin="round"/>
<path d="M1294.9 2308.6H1299.9V2351.6H1294.9zM1340.1 2308.6H1345.1V2344.0H1340.1zM1504.7 2308.6H1509.7V2311.6H1504.7zM1520.7 2308.6H1525.7V2385.0H1520.7zM1563.2 2308.6H1568.2V2376.4H1563.2zM1600.4 2308.6H1605.4V2335.4H1600.4zM1603.0 2308.6H1608.0V2351.6H1603.0zM1719.9 2308.6H1724.9V2343.7H1719.9zM1727.9 2308.6H1732.9V2368.9H1727.9zM1735.8 2308.6H1740.8V2368.9H1735.8zM1741.2 2308.6H1746.2V2319.2H1741.2zM1743.8 2308.6H1748.8V2311.9H1743.8zM1759.7 2308.6H1764.7V2384.9H1759.7zM1765.1 2308.6H1770.1V2343.7H1765.1zM1812.9 2308.6H1817.9V2376.2H1812.9zM1863.3 2308.6H1868.3V2384.9H1863.3zM1871.3 2308.6H1876.3V2351.7H1871.3zM1876.6 2308.6H1881.6V2360.3H1876.6zM1895.2 2308.6H1900.2V2311.2H1895.2zM1903.2 2308.6H1908.2V2351.7H1903.2zM1905.8 2308.6H1910.8V2368.9H1905.8zM1943.0 2308.6H1948.0V2351.7H1943.0zM2012.1 2308.6H2017.1V2311.2H2012.1zM2020.1 2308.6H2025.1V2343.7H2020.1zM2057.3 2308.6H2062.3V2327.8H2057.3z" fill="#ff0000"/>
<line x1="1255.3" y1="2308.6" x2="2181.6" y2="2308.6" stroke="#000" stroke-width="2.5" stroke-dasharray="2.5 4.125"/>
<path d="M1278.8 2440.4v-18.7M1544.4 2440.4v-18.7M1810.1 2440.4v-18.7M2075.7 2440.4v-18.7M1255.3 2144.2h18.7M1255.3 2308.6h18.7" stroke="#000" stroke-width="4.17" fill="none"/>
<rect x="1255.3" y="2142.1" width="926.3" height="298.3" fill="none" stroke="#000" stroke-width="4.17"/>
<text transform="translate(1263.6 2186.0) scale(0.951 1)" text-anchor="start">Dec</text>
<text transform="translate(1277.3 2499.5) scale(0.951 1)" text-anchor="middle">1700</text>
<text transform="translate(1542.9 2499.5) scale(0.951 1)" text-anchor="middle">1800</text>
<text transform="translate(1808.6 2499.5) scale(0.951 1)" text-anchor="middle">1900</text>
<text transform="translate(2075.7 2499.5) scale(0.951 1)" text-anchor="middle">2000</text>
<text transform="translate(117.5 1536.4) rotate(-90) scale(0.951 1)" text-anchor="middle">Monthly anomaly of rainy days</text>
</svg></body></html>
